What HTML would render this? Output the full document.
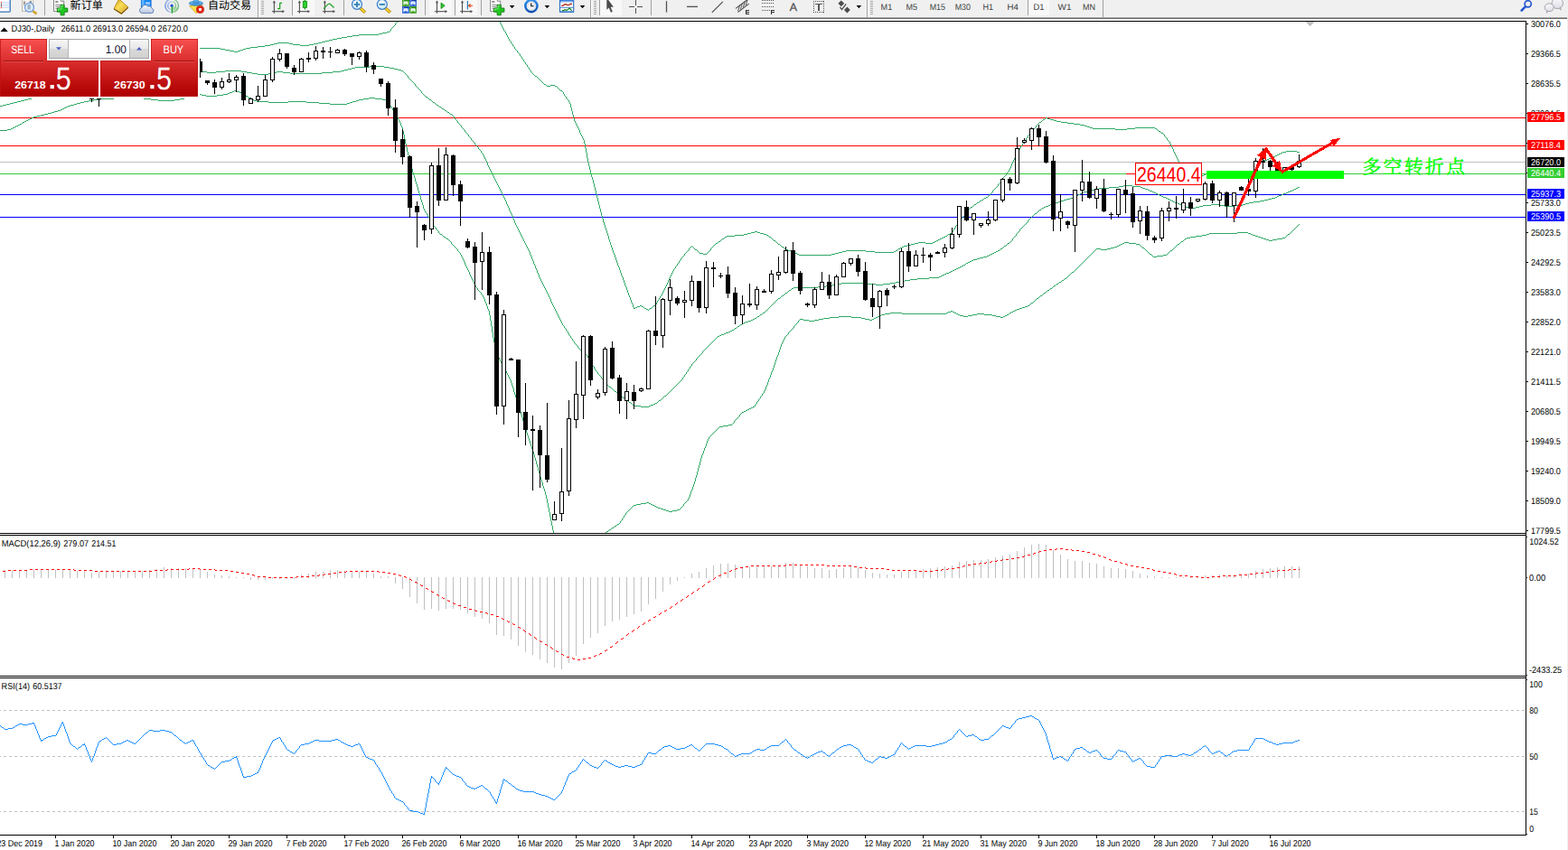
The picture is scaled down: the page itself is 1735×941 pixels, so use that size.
<!DOCTYPE html>
<html><head><meta charset="utf-8"><title>DJ30 Daily</title>
<style>
html,body{margin:0;padding:0;background:#fff;}
body{width:1735px;height:941px;overflow:hidden;position:relative;}
svg{position:absolute;left:0;top:0;display:block;}
text{font-family:"Liberation Sans",sans-serif;white-space:pre;text-rendering:geometricPrecision;}
.c{shape-rendering:crispEdges;}
</style></head><body>
<svg width="1735" height="941" viewBox="0 0 1735 941">
<defs>
<linearGradient id="gred" x1="0" y1="0" x2="0" y2="1"><stop offset="0" stop-color="#f65252"/><stop offset="0.38" stop-color="#dc3232"/><stop offset="1" stop-color="#ae0000"/></linearGradient>
<linearGradient id="gbtn" x1="0" y1="0" x2="0" y2="1"><stop offset="0" stop-color="#f6f6f6"/><stop offset="0.5" stop-color="#e8e8e8"/><stop offset="0.5" stop-color="#dadada"/><stop offset="1" stop-color="#d0d0d0"/></linearGradient>
<clipPath id="cm"><rect x="0" y="24" width="1688" height="566"/></clipPath>
<clipPath id="cx"><rect x="0" y="924" width="1735" height="17"/></clipPath>
</defs>
<rect x="0" y="0" width="1735" height="941" fill="#fff"/>

<g class="c" clip-path="url(#cm)">
<rect x="0" y="130" width="1688" height="1" fill="#ff0000" />
<rect x="0" y="161" width="1688" height="1" fill="#ff0000" />
<rect x="0" y="179" width="1688" height="1" fill="#c0c0c0" />
<rect x="0" y="192" width="1688" height="1" fill="#32cd32" />
<rect x="0" y="215" width="1688" height="1" fill="#0000ff" />
<rect x="0" y="240" width="1688" height="1" fill="#0000ff" />
<path class="c" fill="#2fa866" d="M683 291h1v3h-1zM1125 169h1v2h-1zM641 144h1v3h-1zM727 333h1v2h-1zM451 84h1v2h-1zM451 168h1v4h-1zM771 522h1v4h-1zM1120 179h1v2h-1zM1120 264h1v2h-1zM854 410h1v2h-1zM740 308h1v2h-1zM786 275h1v2h-1zM624 104h1v2h-1zM624 361h1v2h-1zM523 310h1v2h-1zM862 387h1v3h-1zM610 334h1v2h-1zM610 577h1v5h-1zM690 310h1v3h-1zM690 571h1v2h-1zM638 138h1v2h-1zM579 66h1v2h-1zM579 265h1v2h-1zM579 466h1v3h-1zM628 367h1v2h-1zM441 132h1v2h-1zM547 197h1v2h-1zM547 379h1v3h-1zM600 313h1v2h-1zM600 534h1v4h-1zM659 211h1v4h-1zM583 72h1v2h-1zM583 273h1v2h-1zM583 479h1v3h-1zM447 149h1v5h-1zM589 287h1v2h-1zM589 497h1v3h-1zM701 340h1v2h-1zM775 507h1v4h-1zM548 199h1v2h-1zM548 382h1v4h-1zM1291 153h1v2h-1zM697 329h1v3h-1zM1107 200h1v2h-1zM609 331h1v3h-1zM609 572h1v5h-1zM581 69h1v2h-1zM581 269h1v2h-1zM581 472h1v4h-1zM592 294h1v3h-1zM592 507h1v3h-1zM584 275h1v2h-1zM584 482h1v3h-1zM678 277h1v3h-1zM682 288h1v3h-1zM575 60h1v2h-1zM575 257h1v2h-1zM575 453h1v3h-1zM461 204h1v3h-1zM858 398h1v3h-1zM464 214h1v3h-1zM652 184h1v4h-1zM1135 153h1v2h-1zM557 32h1v2h-1zM557 217h1v2h-1zM557 406h1v2h-1zM578 263h1v2h-1zM578 462h1v4h-1zM763 406h1v2h-1zM763 547h1v3h-1zM429 113h1v2h-1zM588 284h1v3h-1zM588 494h1v3h-1zM655 196h1v3h-1zM655 403h1v2h-1zM620 354h1v2h-1zM433 118h1v2h-1zM686 299h1v3h-1zM686 577h1v2h-1zM534 170h1v2h-1zM534 327h1v2h-1zM739 310h1v3h-1zM537 176h1v2h-1zM537 334h1v2h-1zM770 397h1v2h-1zM770 526h1v3h-1zM857 401h1v3h-1zM1146 139h1v2h-1zM529 163h1v2h-1zM594 299h1v3h-1zM594 514h1v3h-1zM615 344h1v2h-1zM818 459h1v2h-1zM616 346h1v2h-1zM595 302h1v2h-1zM595 517h1v4h-1zM478 246h1v2h-1zM544 191h1v2h-1zM544 361h1v7h-1zM1113 192h1v2h-1zM1054 255h1v2h-1zM633 123h1v4h-1zM633 375h1v2h-1zM1067 237h1v2h-1zM540 183h1v2h-1zM540 342h1v2h-1zM849 423h1v3h-1zM514 144h1v2h-1zM514 290h1v3h-1zM699 335h1v2h-1zM449 159h1v4h-1zM1057 250h1v2h-1zM700 337h1v3h-1zM452 172h1v4h-1zM1104 204h1v2h-1zM738 313h1v2h-1zM640 142h1v2h-1zM1133 156h1v2h-1zM521 153h1v2h-1zM521 306h1v2h-1zM1306 182h1v2h-1zM1059 247h1v2h-1zM522 308h1v2h-1zM761 409h1v2h-1zM761 552h1v2h-1zM626 107h1v2h-1zM626 364h1v2h-1zM647 159h1v5h-1zM567 49h1v2h-1zM567 239h1v3h-1zM567 427h1v3h-1zM1129 162h1v2h-1zM872 368h1v2h-1zM629 111h1v2h-1zM629 369h1v2h-1zM769 529h1v4h-1zM442 134h1v2h-1zM1098 211h1v2h-1zM853 412h1v3h-1zM630 113h1v2h-1zM845 433h1v2h-1zM443 136h1v3h-1zM777 389h1v2h-1zM777 502h1v2h-1zM742 304h1v2h-1zM585 75h1v2h-1zM585 277h1v2h-1zM585 485h1v3h-1zM1297 163h1v2h-1zM546 195h1v2h-1zM546 374h1v5h-1zM612 338h1v2h-1zM612 587h1v3h-1zM446 145h1v4h-1zM753 286h1v2h-1zM506 134h1v2h-1zM506 276h1v2h-1zM571 249h1v2h-1zM571 440h1v3h-1zM733 323h1v2h-1zM582 271h1v2h-1zM582 476h1v3h-1zM848 426h1v2h-1zM460 201h1v3h-1zM591 292h1v2h-1zM591 503h1v4h-1zM574 255h1v2h-1zM574 449h1v4h-1zM459 93h1v2h-1zM459 197h1v4h-1zM1310 188h1v2h-1zM1302 174h1v2h-1zM676 271h1v3h-1zM1308 185h1v2h-1zM463 211h1v3h-1zM618 350h1v2h-1zM559 35h1v2h-1zM559 221h1v2h-1zM764 544h1v3h-1zM1295 159h1v2h-1zM749 292h1v2h-1zM667 242h1v4h-1zM525 158h1v2h-1zM525 314h1v2h-1zM685 296h1v3h-1zM566 237h1v2h-1zM566 424h1v3h-1zM670 252h1v3h-1zM596 304h1v3h-1zM596 521h1v3h-1zM568 242h1v2h-1zM568 430h1v4h-1zM476 243h1v2h-1zM535 172h1v2h-1zM535 329h1v2h-1zM673 261h1v4h-1zM779 496h1v3h-1zM1296 161h1v2h-1zM601 315h1v2h-1zM601 538h1v3h-1zM850 420h1v3h-1zM543 189h1v2h-1zM543 355h1v6h-1zM649 169h1v6h-1zM694 321h1v3h-1zM660 215h1v4h-1zM1124 171h1v2h-1zM1124 259h1v2h-1zM651 180h1v4h-1zM651 396h1v2h-1zM772 518h1v4h-1zM603 319h1v2h-1zM603 544h1v4h-1zM551 205h1v2h-1zM551 392h1v4h-1zM604 321h1v2h-1zM604 548h1v4h-1zM450 163h1v5h-1zM663 227h1v4h-1zM732 325h1v2h-1zM744 300h1v2h-1zM502 129h1v2h-1zM695 324h1v3h-1zM448 154h1v5h-1zM847 428h1v3h-1zM436 123h1v2h-1zM597 307h1v2h-1zM597 524h1v4h-1zM843 436h1v2h-1zM468 227h1v4h-1zM656 199h1v4h-1zM580 267h1v2h-1zM580 469h1v3h-1zM569 52h1v2h-1zM569 244h1v3h-1zM569 434h1v3h-1zM1137 150h1v2h-1zM1137 244h1v2h-1zM545 193h1v2h-1zM545 368h1v6h-1zM1118 184h1v2h-1zM839 442h1v2h-1zM643 149h1v2h-1zM587 78h1v2h-1zM587 282h1v2h-1zM587 491h1v3h-1zM767 536h1v3h-1zM1141 145h1v2h-1zM768 533h1v3h-1zM657 203h1v4h-1zM657 406h1v2h-1zM509 280h1v2h-1zM864 381h1v3h-1zM438 126h1v2h-1zM784 484h1v2h-1zM743 302h1v2h-1zM661 219h1v4h-1zM661 412h1v2h-1zM635 131h1v3h-1zM635 378h1v2h-1zM680 282h1v3h-1zM479 248h1v2h-1zM560 37h1v2h-1zM560 223h1v3h-1zM560 411h1v2h-1zM516 295h1v2h-1zM617 348h1v2h-1zM837 445h1v2h-1zM883 355h1v2h-1zM607 327h1v2h-1zM607 562h1v5h-1zM666 239h1v3h-1zM1131 159h1v2h-1zM736 317h1v2h-1zM642 147h1v2h-1zM669 249h1v3h-1zM669 422h1v2h-1zM1299 168h1v2h-1zM541 185h1v2h-1zM541 344h1v5h-1zM1298 165h1v3h-1zM631 115h1v4h-1zM631 372h1v2h-1zM602 317h1v2h-1zM602 541h1v3h-1zM573 253h1v2h-1zM573 446h1v3h-1zM650 175h1v5h-1zM650 394h1v2h-1zM653 188h1v4h-1zM653 399h1v2h-1zM735 319h1v2h-1zM774 511h1v4h-1zM662 223h1v4h-1zM1305 180h1v2h-1zM552 207h1v2h-1zM552 396h1v2h-1zM783 486h1v2h-1zM613 340h1v2h-1zM593 297h1v2h-1zM593 510h1v4h-1zM766 539h1v3h-1zM561 39h1v2h-1zM561 226h1v2h-1zM561 413h1v2h-1zM812 466h1v2h-1zM865 379h1v2h-1zM846 431h1v2h-1zM572 56h1v2h-1zM572 251h1v2h-1zM572 443h1v3h-1zM644 151h1v2h-1zM1071 232h1v2h-1zM645 153h1v2h-1zM759 412h1v2h-1zM675 268h1v3h-1zM696 327h1v2h-1zM1311 190h1v2h-1zM470 233h1v2h-1zM518 149h1v2h-1zM518 299h1v2h-1zM515 293h1v2h-1zM765 403h1v2h-1zM765 542h1v2h-1zM781 491h1v3h-1zM860 393h1v2h-1zM741 306h1v2h-1zM757 281h1v2h-1zM757 415h1v2h-1zM780 494h1v2h-1zM611 336h1v2h-1zM611 582h1v5h-1zM778 499h1v3h-1zM439 128h1v2h-1zM861 390h1v3h-1zM434 120h1v2h-1zM455 183h1v4h-1zM554 26h1v2h-1zM554 211h1v2h-1zM554 400h1v2h-1zM745 298h1v2h-1zM1121 177h1v2h-1zM577 63h1v2h-1zM577 261h1v2h-1zM577 459h1v3h-1zM437 26h1v2h-1zM563 43h1v2h-1zM563 230h1v3h-1zM563 417h1v2h-1zM608 329h1v2h-1zM608 567h1v5h-1zM734 321h1v2h-1zM590 289h1v3h-1zM590 500h1v3h-1zM856 404h1v3h-1zM539 180h1v3h-1zM539 339h1v3h-1zM614 342h1v2h-1zM536 174h1v2h-1zM536 331h1v3h-1zM691 313h1v3h-1zM688 305h1v2h-1zM688 574h1v2h-1zM841 439h1v2h-1zM456 187h1v4h-1zM835 448h1v2h-1zM632 119h1v4h-1zM665 235h1v4h-1zM665 417h1v2h-1zM1304 178h1v2h-1zM605 323h1v2h-1zM605 552h1v5h-1zM868 373h1v2h-1zM524 312h1v2h-1zM1288 149h1v2h-1zM1117 186h1v2h-1zM469 231h1v2h-1zM776 504h1v3h-1zM851 418h1v2h-1zM687 302h1v3h-1zM859 395h1v3h-1zM457 191h1v3h-1zM576 259h1v2h-1zM576 456h1v3h-1zM867 375h1v2h-1zM672 258h1v3h-1zM538 178h1v2h-1zM538 336h1v3h-1zM878 361h1v2h-1zM1119 181h1v3h-1zM648 164h1v5h-1zM606 325h1v2h-1zM606 557h1v5h-1zM751 289h1v2h-1zM664 231h1v4h-1zM482 252h1v2h-1zM762 275h1v2h-1zM762 550h1v2h-1zM747 295h1v2h-1zM782 488h1v3h-1zM623 102h1v2h-1zM586 279h1v3h-1zM586 488h1v3h-1zM511 284h1v2h-1zM730 328h1v2h-1zM637 136h1v2h-1zM622 358h1v2h-1zM619 352h1v2h-1zM432 32h1v2h-1zM726 335h1v2h-1zM855 407h1v3h-1zM453 176h1v4h-1zM671 255h1v3h-1zM549 201h1v2h-1zM549 386h1v3h-1zM729 330h1v2h-1zM1128 164h1v2h-1zM1128 254h1v2h-1zM466 101h1v2h-1zM466 221h1v3h-1zM863 384h1v3h-1zM692 316h1v2h-1zM692 568h1v2h-1zM621 356h1v2h-1zM677 274h1v3h-1zM1394 180h1v2h-1zM698 332h1v3h-1zM510 139h1v2h-1zM510 282h1v2h-1zM1062 243h1v2h-1zM513 288h1v2h-1zM681 285h1v3h-1zM517 297h1v2h-1zM646 155h1v4h-1zM1116 188h1v2h-1zM654 192h1v4h-1zM654 401h1v2h-1zM668 246h1v3h-1zM556 30h1v2h-1zM556 215h1v2h-1zM556 404h1v2h-1zM553 24h1v2h-1zM553 209h1v2h-1zM553 398h1v2h-1zM1300 170h1v2h-1zM866 377h1v2h-1zM465 217h1v4h-1zM562 41h1v2h-1zM562 228h1v2h-1zM562 415h1v2h-1zM565 46h1v2h-1zM565 235h1v2h-1zM565 421h1v3h-1zM634 127h1v4h-1zM454 180h1v3h-1zM1127 166h1v2h-1zM693 318h1v3h-1zM570 247h1v2h-1zM570 437h1v3h-1zM1123 173h1v2h-1zM1109 197h1v2h-1zM1303 176h1v2h-1zM526 316h1v2h-1zM658 207h1v4h-1zM658 408h1v2h-1zM773 515h1v3h-1zM485 256h1v2h-1zM1122 175h1v2h-1zM555 28h1v2h-1zM555 213h1v2h-1zM555 402h1v2h-1zM564 233h1v2h-1zM564 419h1v2h-1zM542 187h1v2h-1zM542 349h1v6h-1zM679 280h1v2h-1zM737 315h1v2h-1zM528 319h1v2h-1zM532 167h1v2h-1zM532 324h1v2h-1zM445 141h1v4h-1zM462 207h1v4h-1zM1301 172h1v2h-1zM639 140h1v2h-1zM639 383h1v2h-1zM1294 157h1v2h-1zM1056 252h1v2h-1zM472 236h1v2h-1zM475 241h1v2h-1zM674 265h1v3h-1zM512 286h1v2h-1zM599 311h1v2h-1zM599 531h1v3h-1zM558 219h1v2h-1zM558 408h1v2h-1zM852 415h1v3h-1zM473 238h1v2h-1zM499 268h1v2h-1zM458 194h1v3h-1zM636 134h1v2h-1zM520 304h1v2h-1zM756 558h1v2h-1zM598 309h1v2h-1zM598 528h1v3h-1zM755 418h1v2h-1zM519 301h1v3h-1zM444 139h1v2h-1zM689 307h1v3h-1zM550 203h1v2h-1zM550 389h1v3h-1zM467 224h1v3h-1zM440 130h1v2h-1zM684 294h1v2h-1zM486 258h1v1h-1zM827 258h4v1h-4zM841 258h4v1h-4zM1051 258h2v1h-2zM1125 258h1v1h-1zM1338 258h31v1h-31zM1381 258h3v1h-3zM1427 258h1v1h-1zM35 108h4v1h-4zM126 108h6v1h-6zM153 108h6v1h-6zM204 108h3v1h-3zM275 108h2v1h-2zM408 108h7v1h-7zM473 108h1v1h-1zM1068 236h1v1h-1zM1145 236h2v1h-2zM1078 226h2v1h-2zM1162 226h3v1h-3zM1305 226h2v1h-2zM1340 226h10v1h-10zM1375 226h3v1h-3zM15 113h4v1h-4zM89 113h4v1h-4zM297 113h22v1h-22zM339 113h14v1h-14zM387 113h3v1h-3zM479 113h2v1h-2zM843 347h1v1h-1zM979 347h6v1h-6zM998 347h49v1h-49zM1058 347h2v1h-2zM1081 347h8v1h-8zM1116 347h1v1h-1zM20 138h2v1h-2zM509 138h1v1h-1zM1147 138h1v1h-1zM1195 138h5v1h-5zM249 78h18v1h-18zM377 78h4v1h-4zM444 78h2v1h-2zM494 264h2v1h-2zM799 264h2v1h-2zM854 264h1v1h-1zM1040 264h2v1h-2zM1311 264h2v1h-2zM1398 264h3v1h-3zM1413 264h6v1h-6zM926 314h5v1h-5zM960 314h9v1h-9zM977 314h8v1h-8zM1169 314h2v1h-2zM752 288h1v1h-1zM1075 288h2v1h-2zM1200 288h1v1h-1zM1093 217h1v1h-1zM1189 217h2v1h-2zM1285 217h2v1h-2zM1413 217h2v1h-2zM504 274h1v1h-1zM763 274h1v1h-1zM767 274h1v1h-1zM787 274h1v1h-1zM867 274h1v1h-1zM996 274h2v1h-2zM1109 274h1v1h-1zM1229 274h4v1h-4zM1264 274h2v1h-2zM1299 274h1v1h-1zM1115 190h1v1h-1zM1384 190h2v1h-2zM778 281h4v1h-4zM882 281h2v1h-2zM920 281h4v1h-4zM1096 281h2v1h-2zM1207 281h1v1h-1zM1272 281h2v1h-2zM1291 281h1v1h-1zM384 40h6v1h-6zM500 270h1v1h-1zM791 270h1v1h-1zM861 270h2v1h-2zM1008 270h4v1h-4zM1114 270h1v1h-1zM1240 270h2v1h-2zM1257 270h4v1h-4zM1303 270h2v1h-2zM49 126h4v1h-4zM498 126h2v1h-2zM1066 293h2v1h-2zM1195 293h1v1h-1zM497 266h1v1h-1zM797 266h1v1h-1zM856 266h2v1h-2zM1036 266h2v1h-2zM1119 266h1v1h-1zM1309 266h1v1h-1zM1404 266h4v1h-4zM409 73h16v1h-16zM1028 307h11v1h-11zM1180 307h1v1h-1zM1102 207h1v1h-1zM1227 207h11v1h-11zM1262 207h2v1h-2zM1436 207h2v1h-2zM219 53h25v1h-25zM272 53h5v1h-5zM1096 214h1v1h-1zM1195 214h2v1h-2zM1279 214h2v1h-2zM1420 214h3v1h-3zM991 312h5v1h-5zM1172 312h2v1h-2zM18 139h2v1h-2zM1200 139h3v1h-3zM864 328h1v1h-1zM1150 328h1v1h-1zM884 282h36v1h-36zM1094 282h2v1h-2zM1206 282h1v1h-1zM1274 282h1v1h-1zM1287 282h4v1h-4zM638 382h1v1h-1zM784 382h1v1h-1zM8 143h4v1h-4zM513 143h1v1h-1zM1143 143h1v1h-1zM1234 143h13v1h-13zM1280 143h1v1h-1zM1126 168h1v1h-1zM1419 168h4v1h-4zM1435 168h3v1h-3zM1101 208h1v1h-1zM1216 208h11v1h-11zM1264 208h3v1h-3zM1434 208h2v1h-2zM490 261h1v1h-1zM804 261h9v1h-9zM850 261h1v1h-1zM1046 261h2v1h-2zM1123 261h1v1h-1zM1323 261h7v1h-7zM1389 261h3v1h-3zM1423 261h1v1h-1zM709 557h6v1h-6zM718 557h2v1h-2zM757 557h1v1h-1zM37 129h4v1h-4zM299 49h4v1h-4zM324 49h8v1h-8zM342 49h5v1h-5zM279 81h6v1h-6zM297 81h4v1h-4zM321 81h35v1h-35zM448 81h1v1h-1zM589 81h1v1h-1zM792 476h1v1h-1zM27 134h2v1h-2zM1152 134h1v1h-1zM1169 134h5v1h-5zM792 269h2v1h-2zM860 269h1v1h-1zM1012 269h4v1h-4zM1024 269h8v1h-8zM1115 269h2v1h-2zM1242 269h2v1h-2zM1249 269h8v1h-8zM1305 269h1v1h-1zM259 57h4v1h-4zM1112 194h1v1h-1zM1315 194h2v1h-2zM1328 194h4v1h-4zM1372 194h5v1h-5zM219 79h10v1h-10zM239 79h10v1h-10zM267 79h6v1h-6zM306 79h7v1h-7zM368 79h9v1h-9zM446 79h1v1h-1zM754 285h1v1h-1zM1084 285h4v1h-4zM1203 285h1v1h-1zM491 262h2v1h-2zM802 262h2v1h-2zM851 262h2v1h-2zM1044 262h2v1h-2zM1122 262h1v1h-1zM1317 262h6v1h-6zM1392 262h3v1h-3zM1422 262h1v1h-1zM11 114h4v1h-4zM85 114h4v1h-4zM353 114h12v1h-12zM384 114h3v1h-3zM481 114h1v1h-1zM701 559h3v1h-3zM722 559h2v1h-2zM285 51h8v1h-8zM568 51h1v1h-1zM397 38h22v1h-22zM229 80h10v1h-10zM273 80h6v1h-6zM301 80h5v1h-5zM313 80h8v1h-8zM356 80h12v1h-12zM447 80h1v1h-1zM588 80h1v1h-1zM7 115h4v1h-4zM82 115h3v1h-3zM365 115h19v1h-19zM430 115h1v1h-1zM482 115h1v1h-1zM1099 210h1v1h-1zM1207 210h5v1h-5zM1270 210h2v1h-2zM1430 210h2v1h-2zM505 275h1v1h-1zM768 275h1v1h-1zM868 275h2v1h-2zM994 275h2v1h-2zM1107 275h2v1h-2zM1213 275h5v1h-5zM1225 275h4v1h-4zM1266 275h1v1h-1zM1298 275h1v1h-1zM12 142h2v1h-2zM512 142h1v1h-1zM1144 142h1v1h-1zM1209 142h25v1h-25zM1247 142h9v1h-9zM1278 142h2v1h-2zM696 445h2v1h-2zM727 445h1v1h-1zM816 361h2v1h-2zM761 277h1v1h-1zM771 277h1v1h-1zM785 277h1v1h-1zM872 277h3v1h-3zM936 277h22v1h-22zM991 277h2v1h-2zM1104 277h2v1h-2zM1211 277h1v1h-1zM1268 277h1v1h-1zM1295 277h2v1h-2zM1074 229h2v1h-2zM1155 229h2v1h-2zM1312 229h5v1h-5zM1323 229h4v1h-4zM393 74h16v1h-16zM425 74h6v1h-6zM584 74h1v1h-1zM1392 183h1v1h-1zM709 450h9v1h-9zM833 450h2v1h-2zM1243 205h10v1h-10zM678 431h1v1h-1zM743 431h1v1h-1zM19 112h4v1h-4zM93 112h5v1h-5zM284 112h13v1h-13zM319 112h20v1h-20zM390 112h4v1h-4zM428 112h1v1h-1zM478 112h1v1h-1zM682 581h1v1h-1zM1086 221h2v1h-2zM1177 221h3v1h-3zM1294 221h2v1h-2zM1399 221h4v1h-4zM703 340h2v1h-2zM712 340h1v1h-1zM721 340h1v1h-1zM851 340h1v1h-1zM1131 340h3v1h-3zM508 279h1v1h-1zM759 279h1v1h-1zM773 279h1v1h-1zM783 279h1v1h-1zM877 279h2v1h-2zM928 279h4v1h-4zM968 279h21v1h-21zM1100 279h2v1h-2zM1209 279h1v1h-1zM1270 279h1v1h-1zM1293 279h1v1h-1zM1143 238h1v1h-1zM837 351h1v1h-1zM918 351h10v1h-10zM942 351h11v1h-11zM969 351h2v1h-2zM1107 351h3v1h-3zM1312 192h1v1h-1zM1334 192h6v1h-6zM1353 192h11v1h-11zM1379 192h3v1h-3zM385 76h4v1h-4zM436 76h4v1h-4zM31 109h4v1h-4zM111 109h15v1h-15zM159 109h8v1h-8zM199 109h5v1h-5zM277 109h2v1h-2zM402 109h6v1h-6zM415 109h8v1h-8zM474 109h1v1h-1zM627 109h1v1h-1zM523 156h1v1h-1zM1293 156h1v1h-1zM841 348h2v1h-2zM975 348h4v1h-4zM1060 348h2v1h-2zM1076 348h5v1h-5zM1089 348h9v1h-9zM1114 348h2v1h-2zM501 271h1v1h-1zM790 271h1v1h-1zM863 271h1v1h-1zM1004 271h4v1h-4zM1113 271h1v1h-1zM1238 271h2v1h-2zM1261 271h1v1h-1zM1302 271h1v1h-1zM489 260h1v1h-1zM813 260h10v1h-10zM848 260h2v1h-2zM1048 260h1v1h-1zM1330 260h5v1h-5zM1386 260h3v1h-3zM1424 260h1v1h-1zM861 330h2v1h-2zM1147 330h2v1h-2zM22 137h2v1h-2zM508 137h1v1h-1zM1148 137h1v1h-1zM1188 137h7v1h-7zM715 556h3v1h-3zM758 556h1v1h-1zM529 321h1v1h-1zM873 321h2v1h-2zM1159 321h2v1h-2zM460 95h1v1h-1zM605 95h4v1h-4zM614 95h2v1h-2zM835 352h2v1h-2zM911 352h7v1h-7zM953 352h4v1h-4zM967 352h2v1h-2zM833 353h2v1h-2zM885 353h4v1h-4zM906 353h5v1h-5zM957 353h5v1h-5zM965 353h2v1h-2zM1398 177h4v1h-4zM875 320h1v1h-1zM1161 320h1v1h-1zM1282 145h2v1h-2zM498 267h1v1h-1zM795 267h2v1h-2zM858 267h1v1h-1zM1034 267h2v1h-2zM1118 267h1v1h-1zM1307 267h2v1h-2zM27 110h4v1h-4zM104 110h7v1h-7zM167 110h8v1h-8zM193 110h6v1h-6zM279 110h2v1h-2zM397 110h5v1h-5zM423 110h4v1h-4zM475 110h2v1h-2zM628 110h1v1h-1zM461 96h1v1h-1zM616 96h1v1h-1zM493 263h1v1h-1zM801 263h1v1h-1zM853 263h1v1h-1zM1042 263h2v1h-2zM1121 263h1v1h-1zM1313 263h4v1h-4zM1395 263h3v1h-3zM1419 263h3v1h-3zM1095 215h1v1h-1zM1193 215h2v1h-2zM1281 215h2v1h-2zM1418 215h2v1h-2zM1088 220h1v1h-1zM1180 220h4v1h-4zM1292 220h2v1h-2zM1403 220h4v1h-4zM840 349h1v1h-1zM973 349h2v1h-2zM1062 349h4v1h-4zM1071 349h5v1h-5zM1098 349h4v1h-4zM1112 349h2v1h-2zM1150 232h2v1h-2zM23 111h4v1h-4zM98 111h6v1h-6zM175 111h18v1h-18zM281 111h3v1h-3zM394 111h3v1h-3zM427 111h1v1h-1zM477 111h1v1h-1zM1111 195h1v1h-1zM1317 195h2v1h-2zM1323 195h5v1h-5zM1054 299h2v1h-2zM1189 299h1v1h-1zM844 346h2v1h-2zM985 346h13v1h-13zM1047 346h2v1h-2zM1056 346h2v1h-2zM1117 346h2v1h-2zM45 127h4v1h-4zM500 127h1v1h-1zM29 133h2v1h-2zM505 133h1v1h-1zM1153 133h1v1h-1zM1166 133h3v1h-3zM810 469h1v1h-1zM39 107h4v1h-4zM132 107h21v1h-21zM207 107h4v1h-4zM274 107h1v1h-1zM471 107h2v1h-2zM1106 202h1v1h-1zM838 350h2v1h-2zM928 350h14v1h-14zM971 350h2v1h-2zM1066 350h5v1h-5zM1102 350h5v1h-5zM1110 350h2v1h-2zM1015 308h13v1h-13zM1178 308h2v1h-2zM381 77h4v1h-4zM440 77h4v1h-4zM586 77h1v1h-1zM41 128h4v1h-4zM501 128h1v1h-1zM452 86h1v1h-1zM595 86h1v1h-1zM25 135h2v1h-2zM1150 135h2v1h-2zM1174 135h7v1h-7zM695 565h1v1h-1zM737 565h3v1h-3zM744 565h5v1h-5zM869 324h2v1h-2zM1155 324h2v1h-2zM3 116h4v1h-4zM78 116h4v1h-4zM431 116h1v1h-1zM483 116h2v1h-2zM218 104h5v1h-5zM247 104h5v1h-5zM269 104h1v1h-1zM468 104h1v1h-1zM794 268h1v1h-1zM859 268h1v1h-1zM1016 268h8v1h-8zM1032 268h2v1h-2zM1117 268h1v1h-1zM1244 268h5v1h-5zM1306 268h1v1h-1zM796 472h4v1h-4zM758 280h1v1h-1zM774 280h4v1h-4zM782 280h1v1h-1zM879 280h3v1h-3zM924 280h4v1h-4zM1098 280h2v1h-2zM1208 280h1v1h-1zM1271 280h1v1h-1zM1292 280h1v1h-1zM769 276h2v1h-2zM870 276h2v1h-2zM993 276h1v1h-1zM1106 276h1v1h-1zM1212 276h1v1h-1zM1218 276h7v1h-7zM1267 276h1v1h-1zM1297 276h1v1h-1zM1203 211h4v1h-4zM1272 211h3v1h-3zM1427 211h3v1h-3zM423 36h5v1h-5zM503 273h1v1h-1zM764 273h1v1h-1zM766 273h1v1h-1zM788 273h1v1h-1zM865 273h2v1h-2zM998 273h2v1h-2zM1110 273h1v1h-1zM1233 273h3v1h-3zM1263 273h1v1h-1zM1300 273h1v1h-1zM43 106h3v1h-3zM211 106h3v1h-3zM228 106h12v1h-12zM272 106h2v1h-2zM470 106h1v1h-1zM625 106h1v1h-1zM630 371h1v1h-1zM796 371h2v1h-2zM870 371h1v1h-1zM487 259h2v1h-2zM823 259h4v1h-4zM845 259h3v1h-3zM1049 259h2v1h-2zM1335 259h3v1h-3zM1384 259h2v1h-2zM1425 259h2v1h-2zM679 432h1v1h-1zM742 432h1v1h-1zM483 254h1v1h-1zM1055 254h1v1h-1zM1431 254h1v1h-1zM1076 228h1v1h-1zM1157 228h3v1h-3zM1310 228h2v1h-2zM1327 228h4v1h-4zM1355 228h10v1h-10zM252 103h2v1h-2zM267 103h2v1h-2zM467 103h1v1h-1zM931 313h29v1h-29zM985 313h6v1h-6zM1171 313h1v1h-1zM823 357h2v1h-2zM882 357h1v1h-1zM1050 301h2v1h-2zM1186 301h2v1h-2zM259 100h3v1h-3zM465 100h1v1h-1zM620 100h2v1h-2zM698 562h1v1h-1zM728 562h3v1h-3zM753 562h1v1h-1zM14 141h2v1h-2zM511 141h1v1h-1zM1145 141h1v1h-1zM1206 141h3v1h-3zM1256 141h22v1h-22zM699 447h1v1h-1zM723 447h2v1h-2zM836 447h1v1h-1zM1077 227h1v1h-1zM1160 227h2v1h-2zM1307 227h3v1h-3zM1331 227h9v1h-9zM1350 227h5v1h-5zM1365 227h10v1h-10zM214 105h4v1h-4zM223 105h5v1h-5zM240 105h7v1h-7zM270 105h2v1h-2zM469 105h1v1h-1zM769 399h1v1h-1zM57 124h3v1h-3zM495 124h2v1h-2zM634 377h1v1h-1zM789 377h1v1h-1zM1083 223h1v1h-1zM1171 223h3v1h-3zM1298 223h2v1h-2zM1387 223h7v1h-7zM700 448h2v1h-2zM720 448h3v1h-3zM1081 224h2v1h-2zM1168 224h3v1h-3zM1300 224h3v1h-3zM1382 224h5v1h-5zM1081 286h3v1h-3zM1202 286h1v1h-1zM676 585h1v1h-1zM356 46h4v1h-4zM656 405h1v1h-1zM764 405h1v1h-1zM1199 212h4v1h-4zM1275 212h2v1h-2zM1425 212h2v1h-2zM694 566h1v1h-1zM740 566h4v1h-4zM671 425h1v1h-1zM749 425h1v1h-1zM502 272h1v1h-1zM765 272h1v1h-1zM789 272h1v1h-1zM864 272h1v1h-1zM1000 272h4v1h-4zM1111 272h2v1h-2zM1236 272h2v1h-2zM1262 272h1v1h-1zM1301 272h1v1h-1zM823 455h2v1h-2zM244 54h5v1h-5zM269 54h3v1h-3zM570 54h1v1h-1zM1058 249h1v1h-1zM1133 249h1v1h-1zM1436 249h1v1h-1zM1423 167h12v1h-12zM748 294h1v1h-1zM1064 294h2v1h-2zM1194 294h1v1h-1zM647 391h1v1h-1zM776 391h1v1h-1zM368 43h5v1h-5zM846 345h1v1h-1zM1049 345h3v1h-3zM1054 345h2v1h-2zM1119 345h2v1h-2zM1100 209h1v1h-1zM1212 209h4v1h-4zM1267 209h3v1h-3zM1432 209h2v1h-2zM702 341h1v1h-1zM713 341h2v1h-2zM719 341h2v1h-2zM850 341h1v1h-1zM1128 341h3v1h-3zM480 250h1v1h-1zM1132 250h1v1h-1zM1435 250h1v1h-1zM496 265h1v1h-1zM798 265h1v1h-1zM855 265h1v1h-1zM1038 265h2v1h-2zM1310 265h1v1h-1zM1401 265h3v1h-3zM1408 265h5v1h-5zM507 278h1v1h-1zM760 278h1v1h-1zM772 278h1v1h-1zM784 278h1v1h-1zM875 278h2v1h-2zM932 278h4v1h-4zM958 278h10v1h-10zM989 278h2v1h-2zM1102 278h2v1h-2zM1210 278h1v1h-1zM1269 278h1v1h-1zM1294 278h1v1h-1zM527 318h1v1h-1zM878 318h27v1h-27zM1164 318h1v1h-1zM450 83h1v1h-1zM591 83h1v1h-1zM694 443h1v1h-1zM729 443h2v1h-2zM876 319h2v1h-2zM1162 319h2v1h-2zM1084 222h2v1h-2zM1174 222h3v1h-3zM1296 222h2v1h-2zM1394 222h5v1h-5zM60 123h4v1h-4zM494 123h1v1h-1zM695 444h1v1h-1zM728 444h1v1h-1zM838 444h1v1h-1zM360 45h4v1h-4zM564 45h1v1h-1zM484 255h1v1h-1zM1430 255h1v1h-1zM390 39h7v1h-7zM389 75h4v1h-4zM431 75h5v1h-5zM1408 173h3v1h-3zM857 334h1v1h-1zM1143 334h1v1h-1zM307 47h13v1h-13zM352 47h4v1h-4zM303 48h4v1h-4zM320 48h4v1h-4zM347 48h5v1h-5zM566 48h1v1h-1zM914 316h7v1h-7zM1166 316h2v1h-2zM1062 295h2v1h-2zM1193 295h1v1h-1zM819 359h2v1h-2zM880 359h1v1h-1zM1103 206h1v1h-1zM1238 206h5v1h-5zM1253 206h9v1h-9zM798 370h3v1h-3zM871 370h1v1h-1zM293 50h6v1h-6zM332 50h10v1h-10zM643 388h1v1h-1zM778 388h1v1h-1zM810 365h2v1h-2zM875 365h1v1h-1zM856 335h1v1h-1zM1141 335h2v1h-2zM794 372h2v1h-2zM869 372h1v1h-1zM516 147h1v1h-1zM1140 147h1v1h-1zM1285 147h2v1h-2zM0 144h8v1h-8zM1142 144h1v1h-1zM1281 144h1v1h-1zM1129 253h1v1h-1zM1432 253h1v1h-1zM689 440h2v1h-2zM733 440h1v1h-1zM625 363h1v1h-1zM813 363h2v1h-2zM877 363h1v1h-1zM756 283h1v1h-1zM1092 283h2v1h-2zM1205 283h1v1h-1zM1275 283h1v1h-1zM1280 283h7v1h-7zM1001 310h6v1h-6zM1175 310h2v1h-2zM696 564h1v1h-1zM734 564h3v1h-3zM749 564h3v1h-3zM831 257h4v1h-4zM838 257h3v1h-3zM1053 257h1v1h-1zM1126 257h1v1h-1zM1369 257h12v1h-12zM1428 257h1v1h-1zM533 326h1v1h-1zM867 326h1v1h-1zM1153 326h1v1h-1zM1313 193h2v1h-2zM1332 193h2v1h-2zM1364 193h8v1h-8zM1377 193h2v1h-2zM530 322h1v1h-1zM872 322h1v1h-1zM1158 322h1v1h-1zM791 477h1v1h-1zM649 393h1v1h-1zM774 393h1v1h-1zM831 354h2v1h-2zM884 354h1v1h-1zM889 354h6v1h-6zM901 354h5v1h-5zM962 354h3v1h-3zM687 438h1v1h-1zM735 438h2v1h-2zM842 438h1v1h-1zM31 132h2v1h-2zM504 132h1v1h-1zM1154 132h2v1h-2zM1162 132h4v1h-4zM1070 234h1v1h-1zM1148 234h1v1h-1zM254 102h3v1h-3zM265 102h2v1h-2zM771 396h1v1h-1zM811 468h1v1h-1zM522 155h1v1h-1zM1134 155h1v1h-1zM1292 155h1v1h-1zM766 402h1v1h-1zM1073 289h2v1h-2zM1199 289h1v1h-1zM750 291h1v1h-1zM1069 291h2v1h-2zM1197 291h1v1h-1zM806 367h2v1h-2zM873 367h1v1h-1zM249 55h5v1h-5zM266 55h3v1h-3zM571 55h1v1h-1zM817 461h1v1h-1zM71 119h2v1h-2zM488 119h1v1h-1zM644 389h1v1h-1zM254 56h5v1h-5zM263 56h3v1h-3zM285 82h12v1h-12zM449 82h1v1h-1zM590 82h1v1h-1zM645 390h2v1h-2zM559 410h1v1h-1zM659 410h1v1h-1zM533 169h1v1h-1zM1417 169h2v1h-2zM806 470h4v1h-4zM69 120h2v1h-2zM489 120h2v1h-2zM1114 191h1v1h-1zM1340 191h13v1h-13zM1382 191h2v1h-2zM790 376h1v1h-1zM1063 242h1v1h-1zM1139 242h1v1h-1zM0 117h3v1h-3zM75 117h3v1h-3zM432 117h1v1h-1zM485 117h1v1h-1zM627 366h1v1h-1zM808 366h2v1h-2zM874 366h1v1h-1zM640 385h1v1h-1zM781 385h1v1h-1zM463 98h1v1h-1zM618 98h1v1h-1zM604 94h1v1h-1zM609 94h5v1h-5zM378 41h6v1h-6zM680 433h2v1h-2zM741 433h1v1h-1zM373 42h5v1h-5zM439 24h1v1h-1zM715 342h2v1h-2zM718 342h1v1h-1zM849 342h1v1h-1zM1125 342h3v1h-3zM453 87h1v1h-1zM596 87h1v1h-1zM481 251h1v1h-1zM1131 251h1v1h-1zM1434 251h1v1h-1zM855 336h1v1h-1zM1140 336h1v1h-1zM1307 184h1v1h-1zM1391 184h1v1h-1zM434 30h1v1h-1zM455 89h1v1h-1zM598 89h1v1h-1zM788 378h1v1h-1zM277 52h8v1h-8zM847 344h1v1h-1zM1052 344h2v1h-2zM1121 344h2v1h-2zM1077 287h4v1h-4zM1201 287h1v1h-1zM921 315h5v1h-5zM969 315h8v1h-8zM1168 315h1v1h-1zM24 136h1v1h-1zM507 136h1v1h-1zM1149 136h1v1h-1zM1181 136h7v1h-7zM16 140h2v1h-2zM1203 140h3v1h-3zM1134 248h1v1h-1zM1437 248h1v1h-1zM755 284h1v1h-1zM1088 284h4v1h-4zM1204 284h1v1h-1zM1276 284h4v1h-4zM35 130h2v1h-2zM1157 130h2v1h-2zM683 580h2v1h-2zM831 451h2v1h-2zM1080 225h1v1h-1zM1165 225h3v1h-3zM1303 225h2v1h-2zM1378 225h4v1h-4zM1390 185h1v1h-1zM815 362h1v1h-1zM1089 219h2v1h-2zM1184 219h3v1h-3zM1290 219h2v1h-2zM1407 219h4v1h-4zM698 446h1v1h-1zM725 446h2v1h-2zM623 360h1v1h-1zM818 360h1v1h-1zM879 360h1v1h-1zM860 331h1v1h-1zM1146 331h1v1h-1zM1072 231h1v1h-1zM1152 231h1v1h-1zM1396 178h2v1h-2zM687 576h1v1h-1zM517 148h1v1h-1zM1139 148h1v1h-1zM1287 148h1v1h-1zM531 323h1v1h-1zM871 323h1v1h-1zM1157 323h1v1h-1zM1007 309h8v1h-8zM1177 309h1v1h-1zM457 91h1v1h-1zM600 91h1v1h-1zM759 555h1v1h-1zM825 356h3v1h-3zM1110 196h1v1h-1zM1319 196h4v1h-4zM699 561h1v1h-1zM726 561h2v1h-2zM754 561h1v1h-1zM821 358h2v1h-2zM881 358h1v1h-1zM257 101h2v1h-2zM262 101h3v1h-3zM622 101h1v1h-1zM663 415h1v1h-1zM1091 218h2v1h-2zM1187 218h2v1h-2zM1287 218h3v1h-3zM1411 218h2v1h-2zM364 44h4v1h-4zM664 416h1v1h-1zM692 442h2v1h-2zM731 442h1v1h-1zM1043 304h2v1h-2zM1183 304h1v1h-1zM697 563h1v1h-1zM731 563h3v1h-3zM752 563h1v1h-1zM821 456h2v1h-2zM673 427h1v1h-1zM747 427h1v1h-1zM803 368h3v1h-3zM1039 306h2v1h-2zM1181 306h1v1h-1zM782 384h1v1h-1zM471 235h1v1h-1zM1069 235h1v1h-1zM1147 235h1v1h-1zM905 317h9v1h-9zM1165 317h1v1h-1zM717 343h1v1h-1zM848 343h1v1h-1zM1123 343h2v1h-2zM667 420h1v1h-1zM754 420h1v1h-1zM683 435h1v1h-1zM739 435h1v1h-1zM844 435h1v1h-1zM671 588h2v1h-2zM1406 174h2v1h-2zM64 122h3v1h-3zM435 122h1v1h-1zM492 122h2v1h-2zM438 25h1v1h-1zM477 245h1v1h-1zM1061 245h1v1h-1zM1130 252h1v1h-1zM1433 252h1v1h-1zM33 131h2v1h-2zM503 131h1v1h-1zM1156 131h1v1h-1zM1159 131h3v1h-3zM725 337h1v1h-1zM854 337h1v1h-1zM1139 337h1v1h-1zM433 31h1v1h-1zM828 355h3v1h-3zM895 355h6v1h-6zM680 582h2v1h-2zM700 560h1v1h-1zM724 560h2v1h-2zM755 560h1v1h-1zM1066 239h1v1h-1zM1142 239h1v1h-1zM1094 216h1v1h-1zM1191 216h2v1h-2zM1283 216h2v1h-2zM1415 216h3v1h-3zM996 311h5v1h-5zM1174 311h1v1h-1zM632 374h1v1h-1zM792 374h1v1h-1zM789 479h1v1h-1zM1149 233h1v1h-1zM1052 300h2v1h-2zM1188 300h1v1h-1zM1071 290h2v1h-2zM1198 290h1v1h-1zM1105 203h1v1h-1zM524 157h1v1h-1zM419 37h4v1h-4zM515 146h1v1h-1zM1284 146h1v1h-1zM462 97h1v1h-1zM617 97h1v1h-1zM835 256h3v1h-3zM1127 256h1v1h-1zM1429 256h1v1h-1zM594 85h1v1h-1zM668 421h1v1h-1zM753 421h1v1h-1zM1047 302h3v1h-3zM1185 302h1v1h-1zM1064 241h1v1h-1zM1140 241h1v1h-1zM691 441h1v1h-1zM732 441h1v1h-1zM840 441h1v1h-1zM1097 213h1v1h-1zM1197 213h2v1h-2zM1277 213h2v1h-2zM1423 213h2v1h-2zM520 152h1v1h-1zM1136 152h1v1h-1zM1290 152h1v1h-1zM458 92h1v1h-1zM601 92h1v1h-1zM704 558h5v1h-5zM720 558h2v1h-2zM53 125h4v1h-4zM437 125h1v1h-1zM497 125h1v1h-1zM1041 305h2v1h-2zM1182 305h1v1h-1zM526 160h1v1h-1zM673 587h1v1h-1zM674 428h2v1h-2zM746 428h1v1h-1zM1060 296h2v1h-2zM1192 296h1v1h-1zM762 408h1v1h-1zM464 99h1v1h-1zM619 99h1v1h-1zM652 398h1v1h-1zM705 339h3v1h-3zM710 339h2v1h-2zM722 339h1v1h-1zM852 339h1v1h-1zM1134 339h3v1h-3zM746 297h1v1h-1zM1058 297h2v1h-2zM1191 297h1v1h-1zM793 373h1v1h-1zM863 329h1v1h-1zM1149 329h1v1h-1zM677 584h2v1h-2zM829 452h2v1h-2zM456 90h1v1h-1zM599 90h1v1h-1zM573 58h1v1h-1zM574 59h1v1h-1zM790 478h1v1h-1zM1073 230h1v1h-1zM1153 230h2v1h-2zM1317 230h6v1h-6zM662 414h1v1h-1zM758 414h1v1h-1zM679 583h1v1h-1zM677 430h1v1h-1zM744 430h1v1h-1zM800 471h6v1h-6zM474 240h1v1h-1zM1065 240h1v1h-1zM1141 240h1v1h-1zM528 162h1v1h-1zM1068 292h1v1h-1zM1196 292h1v1h-1zM691 570h1v1h-1zM708 338h2v1h-2zM723 338h2v1h-2zM853 338h1v1h-1zM1137 338h2v1h-2zM812 364h1v1h-1zM876 364h1v1h-1zM788 480h1v1h-1zM816 462h1v1h-1zM1309 187h1v1h-1zM1388 187h1v1h-1zM1415 170h2v1h-2zM672 426h1v1h-1zM748 426h1v1h-1zM795 473h1v1h-1zM801 369h2v1h-2zM819 458h1v1h-1zM576 62h1v1h-1zM641 386h1v1h-1zM780 386h1v1h-1zM814 464h1v1h-1zM580 68h1v1h-1zM648 392h1v1h-1zM775 392h1v1h-1zM682 434h1v1h-1zM740 434h1v1h-1zM67 121h2v1h-2zM491 121h1v1h-1zM702 449h7v1h-7zM718 449h2v1h-2zM1045 303h2v1h-2zM1184 303h1v1h-1zM752 422h1v1h-1zM767 401h1v1h-1zM787 379h1v1h-1zM530 165h1v1h-1zM531 166h1v1h-1zM670 589h1v1h-1zM1404 175h2v1h-2zM684 436h1v1h-1zM738 436h1v1h-1zM454 88h1v1h-1zM597 88h1v1h-1zM1135 247h1v1h-1zM592 84h2v1h-2zM602 93h2v1h-2zM1395 179h1v1h-1zM1138 149h1v1h-1zM666 419h1v1h-1zM428 35h3v1h-3zM1387 188h1v1h-1zM827 453h2v1h-2zM519 151h1v1h-1zM1289 151h1v1h-1zM794 474h1v1h-1zM1413 171h2v1h-2zM1132 158h1v1h-1zM868 325h1v1h-1zM1154 325h1v1h-1zM820 457h1v1h-1zM815 463h1v1h-1zM1108 199h1v1h-1zM642 387h1v1h-1zM779 387h1v1h-1zM756 417h1v1h-1zM685 437h2v1h-2zM737 437h1v1h-1zM751 423h1v1h-1zM636 380h1v1h-1zM786 380h1v1h-1zM527 161h1v1h-1zM1130 161h1v1h-1zM660 411h1v1h-1zM760 411h1v1h-1zM670 424h1v1h-1zM750 424h1v1h-1zM728 332h1v1h-1zM859 332h1v1h-1zM1145 332h1v1h-1zM431 34h1v1h-1zM558 34h1v1h-1zM637 381h1v1h-1zM785 381h1v1h-1zM685 579h1v1h-1zM731 327h1v1h-1zM865 327h2v1h-2zM1151 327h2v1h-2zM793 475h1v1h-1zM773 394h1v1h-1zM768 400h1v1h-1zM676 429h1v1h-1zM745 429h1v1h-1zM674 586h2v1h-2zM578 65h1v1h-1zM858 333h1v1h-1zM1144 333h1v1h-1zM582 71h1v1h-1zM787 481h1v1h-1zM435 29h1v1h-1zM693 567h1v1h-1zM813 465h1v1h-1zM1402 176h2v1h-2zM1056 298h2v1h-2zM1190 298h1v1h-1zM772 395h1v1h-1zM73 118h2v1h-2zM486 118h2v1h-2zM791 375h1v1h-1zM1389 186h1v1h-1zM825 454h2v1h-2zM1386 189h1v1h-1zM1393 182h1v1h-1zM1144 237h1v1h-1zM1411 172h2v1h-2zM689 573h1v1h-1zM1060 246h1v1h-1zM1136 246h1v1h-1zM786 482h1v1h-1zM688 439h1v1h-1zM734 439h1v1h-1zM760 554h1v1h-1zM783 383h1v1h-1zM1138 243h1v1h-1zM436 28h1v1h-1zM785 483h1v1h-1z"/>
<rect x="99" y="109" width="5" height="1" fill="#000" />
<rect x="101" y="109" width="1" height="4" fill="#000" />
<rect x="107" y="109" width="5" height="1" fill="#000" />
<rect x="109" y="109" width="1" height="9" fill="#000" />
<rect x="221" y="65" width="1" height="21" fill="#000" />
<rect x="219" y="68" width="5" height="12" fill="#000" />
<rect x="229" y="89" width="1" height="5" fill="#000" />
<rect x="227" y="89" width="5" height="3" fill="#000" />
<rect x="237" y="88" width="1" height="16" fill="#000" />
<rect x="235" y="91" width="5" height="6" fill="#000" />
<rect x="245" y="86" width="1" height="13" fill="#000" />
<rect x="243" y="90" width="5" height="7" fill="#000" />
<rect x="244" y="91" width="3" height="5" fill="#fff" />
<rect x="253" y="81" width="1" height="11" fill="#000" />
<rect x="251" y="88" width="5" height="3" fill="#000" />
<rect x="252" y="89" width="3" height="1" fill="#fff" />
<rect x="261" y="83" width="1" height="19" fill="#000" />
<rect x="259" y="85" width="5" height="4" fill="#000" />
<rect x="260" y="86" width="3" height="2" fill="#fff" />
<rect x="269" y="81" width="1" height="36" fill="#000" />
<rect x="267" y="84" width="5" height="27" fill="#000" />
<rect x="277" y="108" width="1" height="7" fill="#000" />
<rect x="275" y="109" width="5" height="6" fill="#000" />
<rect x="276" y="110" width="3" height="4" fill="#fff" />
<rect x="285" y="95" width="1" height="18" fill="#000" />
<rect x="283" y="106" width="5" height="5" fill="#000" />
<rect x="284" y="107" width="3" height="3" fill="#fff" />
<rect x="293" y="83" width="1" height="24" fill="#000" />
<rect x="291" y="88" width="5" height="19" fill="#000" />
<rect x="292" y="89" width="3" height="17" fill="#fff" />
<rect x="301" y="63" width="1" height="28" fill="#000" />
<rect x="299" y="65" width="5" height="24" fill="#000" />
<rect x="300" y="66" width="3" height="22" fill="#fff" />
<rect x="309" y="54" width="1" height="14" fill="#000" />
<rect x="307" y="59" width="5" height="7" fill="#000" />
<rect x="308" y="60" width="3" height="5" fill="#fff" />
<rect x="317" y="59" width="1" height="17" fill="#000" />
<rect x="315" y="59" width="5" height="15" fill="#000" />
<rect x="325" y="72" width="1" height="11" fill="#000" />
<rect x="323" y="75" width="5" height="5" fill="#000" />
<rect x="333" y="64" width="1" height="16" fill="#000" />
<rect x="331" y="65" width="5" height="15" fill="#000" />
<rect x="332" y="66" width="3" height="13" fill="#fff" />
<rect x="341" y="58" width="1" height="11" fill="#000" />
<rect x="339" y="64" width="5" height="2" fill="#000" />
<rect x="349" y="51" width="1" height="16" fill="#000" />
<rect x="347" y="56" width="5" height="9" fill="#000" />
<rect x="348" y="57" width="3" height="7" fill="#fff" />
<rect x="357" y="52" width="1" height="13" fill="#000" />
<rect x="355" y="56" width="5" height="2" fill="#000" />
<rect x="365" y="52" width="1" height="12" fill="#000" />
<rect x="363" y="57" width="5" height="1" fill="#000" />
<rect x="373" y="54" width="1" height="5" fill="#000" />
<rect x="371" y="55" width="5" height="4" fill="#000" />
<rect x="372" y="56" width="3" height="2" fill="#fff" />
<rect x="381" y="54" width="1" height="8" fill="#000" />
<rect x="379" y="55" width="5" height="5" fill="#000" />
<rect x="389" y="59" width="1" height="13" fill="#000" />
<rect x="387" y="59" width="5" height="4" fill="#000" />
<rect x="397" y="57" width="1" height="9" fill="#000" />
<rect x="395" y="58" width="5" height="5" fill="#000" />
<rect x="396" y="59" width="3" height="3" fill="#fff" />
<rect x="405" y="56" width="1" height="24" fill="#000" />
<rect x="403" y="58" width="5" height="16" fill="#000" />
<rect x="413" y="69" width="1" height="13" fill="#000" />
<rect x="411" y="72" width="5" height="5" fill="#000" />
<rect x="421" y="87" width="1" height="9" fill="#000" />
<rect x="419" y="87" width="5" height="6" fill="#000" />
<rect x="429" y="90" width="1" height="38" fill="#000" />
<rect x="427" y="92" width="5" height="28" fill="#000" />
<rect x="437" y="110" width="1" height="59" fill="#000" />
<rect x="435" y="119" width="5" height="37" fill="#000" />
<rect x="445" y="143" width="1" height="39" fill="#000" />
<rect x="443" y="154" width="5" height="20" fill="#000" />
<rect x="453" y="172" width="1" height="69" fill="#000" />
<rect x="451" y="173" width="5" height="57" fill="#000" />
<rect x="461" y="223" width="1" height="51" fill="#000" />
<rect x="459" y="228" width="5" height="7" fill="#000" />
<rect x="469" y="248" width="1" height="18" fill="#000" />
<rect x="467" y="249" width="5" height="6" fill="#000" />
<rect x="477" y="180" width="1" height="79" fill="#000" />
<rect x="475" y="183" width="5" height="71" fill="#000" />
<rect x="476" y="184" width="3" height="69" fill="#fff" />
<rect x="485" y="164" width="1" height="64" fill="#000" />
<rect x="483" y="183" width="5" height="39" fill="#000" />
<rect x="493" y="163" width="1" height="59" fill="#000" />
<rect x="491" y="171" width="5" height="51" fill="#000" />
<rect x="492" y="172" width="3" height="49" fill="#fff" />
<rect x="501" y="171" width="1" height="46" fill="#000" />
<rect x="499" y="172" width="5" height="33" fill="#000" />
<rect x="509" y="200" width="1" height="50" fill="#000" />
<rect x="507" y="204" width="5" height="19" fill="#000" />
<rect x="517" y="264" width="1" height="11" fill="#000" />
<rect x="515" y="267" width="5" height="7" fill="#000" />
<rect x="525" y="268" width="1" height="64" fill="#000" />
<rect x="523" y="273" width="5" height="18" fill="#000" />
<rect x="533" y="257" width="1" height="64" fill="#000" />
<rect x="531" y="279" width="5" height="11" fill="#000" />
<rect x="532" y="280" width="3" height="9" fill="#fff" />
<rect x="541" y="273" width="1" height="64" fill="#000" />
<rect x="539" y="279" width="5" height="48" fill="#000" />
<rect x="549" y="323" width="1" height="136" fill="#000" />
<rect x="547" y="326" width="5" height="124" fill="#000" />
<rect x="557" y="343" width="1" height="127" fill="#000" />
<rect x="555" y="348" width="5" height="102" fill="#000" />
<rect x="556" y="349" width="3" height="100" fill="#fff" />
<rect x="565" y="396" width="1" height="3" fill="#000" />
<rect x="563" y="397" width="5" height="2" fill="#000" />
<rect x="573" y="398" width="1" height="86" fill="#000" />
<rect x="571" y="398" width="5" height="59" fill="#000" />
<rect x="581" y="424" width="1" height="69" fill="#000" />
<rect x="579" y="456" width="5" height="20" fill="#000" />
<rect x="589" y="460" width="1" height="83" fill="#000" />
<rect x="587" y="475" width="5" height="2" fill="#000" />
<rect x="597" y="471" width="1" height="69" fill="#000" />
<rect x="595" y="476" width="5" height="28" fill="#000" />
<rect x="605" y="446" width="1" height="88" fill="#000" />
<rect x="603" y="504" width="5" height="27" fill="#000" />
<rect x="613" y="555" width="1" height="21" fill="#000" />
<rect x="611" y="569" width="5" height="7" fill="#000" />
<rect x="612" y="570" width="3" height="5" fill="#fff" />
<rect x="621" y="496" width="1" height="81" fill="#000" />
<rect x="619" y="544" width="5" height="25" fill="#000" />
<rect x="620" y="545" width="3" height="23" fill="#fff" />
<rect x="629" y="443" width="1" height="106" fill="#000" />
<rect x="627" y="463" width="5" height="81" fill="#000" />
<rect x="628" y="464" width="3" height="79" fill="#fff" />
<rect x="637" y="400" width="1" height="74" fill="#000" />
<rect x="635" y="436" width="5" height="29" fill="#000" />
<rect x="636" y="437" width="3" height="27" fill="#fff" />
<rect x="645" y="371" width="1" height="93" fill="#000" />
<rect x="643" y="372" width="5" height="66" fill="#000" />
<rect x="644" y="373" width="3" height="64" fill="#fff" />
<rect x="653" y="371" width="1" height="56" fill="#000" />
<rect x="651" y="372" width="5" height="49" fill="#000" />
<rect x="661" y="431" width="1" height="11" fill="#000" />
<rect x="659" y="435" width="5" height="5" fill="#000" />
<rect x="660" y="436" width="3" height="3" fill="#fff" />
<rect x="669" y="384" width="1" height="54" fill="#000" />
<rect x="667" y="386" width="5" height="49" fill="#000" />
<rect x="668" y="387" width="3" height="47" fill="#fff" />
<rect x="677" y="378" width="1" height="42" fill="#000" />
<rect x="675" y="385" width="5" height="34" fill="#000" />
<rect x="685" y="415" width="1" height="43" fill="#000" />
<rect x="683" y="418" width="5" height="26" fill="#000" />
<rect x="693" y="424" width="1" height="40" fill="#000" />
<rect x="691" y="433" width="5" height="11" fill="#000" />
<rect x="692" y="434" width="3" height="9" fill="#fff" />
<rect x="701" y="426" width="1" height="27" fill="#000" />
<rect x="699" y="434" width="5" height="10" fill="#000" />
<rect x="709" y="429" width="1" height="5" fill="#000" />
<rect x="707" y="430" width="5" height="3" fill="#000" />
<rect x="708" y="431" width="3" height="1" fill="#fff" />
<rect x="717" y="365" width="1" height="66" fill="#000" />
<rect x="715" y="366" width="5" height="65" fill="#000" />
<rect x="716" y="367" width="3" height="63" fill="#fff" />
<rect x="725" y="328" width="1" height="54" fill="#000" />
<rect x="723" y="366" width="5" height="6" fill="#000" />
<rect x="733" y="330" width="1" height="55" fill="#000" />
<rect x="731" y="331" width="5" height="41" fill="#000" />
<rect x="732" y="332" width="3" height="39" fill="#fff" />
<rect x="741" y="309" width="1" height="40" fill="#000" />
<rect x="739" y="318" width="5" height="15" fill="#000" />
<rect x="740" y="319" width="3" height="13" fill="#fff" />
<rect x="749" y="328" width="1" height="10" fill="#000" />
<rect x="747" y="330" width="5" height="6" fill="#000" />
<rect x="757" y="322" width="1" height="30" fill="#000" />
<rect x="755" y="332" width="5" height="3" fill="#000" />
<rect x="756" y="333" width="3" height="1" fill="#fff" />
<rect x="765" y="305" width="1" height="34" fill="#000" />
<rect x="763" y="311" width="5" height="22" fill="#000" />
<rect x="764" y="312" width="3" height="20" fill="#fff" />
<rect x="773" y="311" width="1" height="35" fill="#000" />
<rect x="771" y="311" width="5" height="30" fill="#000" />
<rect x="781" y="289" width="1" height="58" fill="#000" />
<rect x="779" y="296" width="5" height="45" fill="#000" />
<rect x="780" y="297" width="3" height="43" fill="#fff" />
<rect x="789" y="290" width="1" height="28" fill="#000" />
<rect x="787" y="296" width="5" height="2" fill="#000" />
<rect x="797" y="302" width="1" height="6" fill="#000" />
<rect x="795" y="305" width="5" height="1" fill="#000" />
<rect x="805" y="295" width="1" height="35" fill="#000" />
<rect x="803" y="304" width="5" height="21" fill="#000" />
<rect x="813" y="318" width="1" height="41" fill="#000" />
<rect x="811" y="324" width="5" height="26" fill="#000" />
<rect x="821" y="327" width="1" height="32" fill="#000" />
<rect x="819" y="336" width="5" height="13" fill="#000" />
<rect x="820" y="337" width="3" height="11" fill="#fff" />
<rect x="829" y="314" width="1" height="26" fill="#000" />
<rect x="827" y="336" width="5" height="2" fill="#000" />
<rect x="837" y="317" width="1" height="26" fill="#000" />
<rect x="835" y="320" width="5" height="18" fill="#000" />
<rect x="836" y="321" width="3" height="16" fill="#fff" />
<rect x="845" y="320" width="1" height="4" fill="#000" />
<rect x="843" y="322" width="5" height="2" fill="#000" />
<rect x="853" y="299" width="1" height="26" fill="#000" />
<rect x="851" y="303" width="5" height="20" fill="#000" />
<rect x="852" y="304" width="3" height="18" fill="#fff" />
<rect x="861" y="284" width="1" height="26" fill="#000" />
<rect x="859" y="301" width="5" height="4" fill="#000" />
<rect x="860" y="302" width="3" height="2" fill="#fff" />
<rect x="869" y="273" width="1" height="30" fill="#000" />
<rect x="867" y="277" width="5" height="25" fill="#000" />
<rect x="868" y="278" width="3" height="23" fill="#fff" />
<rect x="877" y="268" width="1" height="43" fill="#000" />
<rect x="875" y="277" width="5" height="26" fill="#000" />
<rect x="885" y="300" width="1" height="26" fill="#000" />
<rect x="883" y="302" width="5" height="20" fill="#000" />
<rect x="893" y="335" width="1" height="5" fill="#000" />
<rect x="891" y="336" width="5" height="2" fill="#000" />
<rect x="901" y="318" width="1" height="23" fill="#000" />
<rect x="899" y="320" width="5" height="18" fill="#000" />
<rect x="900" y="321" width="3" height="16" fill="#fff" />
<rect x="909" y="301" width="1" height="20" fill="#000" />
<rect x="907" y="312" width="5" height="9" fill="#000" />
<rect x="908" y="313" width="3" height="7" fill="#fff" />
<rect x="917" y="304" width="1" height="27" fill="#000" />
<rect x="915" y="312" width="5" height="15" fill="#000" />
<rect x="925" y="304" width="1" height="23" fill="#000" />
<rect x="923" y="306" width="5" height="21" fill="#000" />
<rect x="924" y="307" width="3" height="19" fill="#fff" />
<rect x="933" y="290" width="1" height="17" fill="#000" />
<rect x="931" y="291" width="5" height="16" fill="#000" />
<rect x="932" y="292" width="3" height="14" fill="#fff" />
<rect x="941" y="286" width="1" height="8" fill="#000" />
<rect x="939" y="286" width="5" height="6" fill="#000" />
<rect x="940" y="287" width="3" height="4" fill="#fff" />
<rect x="949" y="282" width="1" height="24" fill="#000" />
<rect x="947" y="286" width="5" height="15" fill="#000" />
<rect x="957" y="290" width="1" height="43" fill="#000" />
<rect x="955" y="300" width="5" height="32" fill="#000" />
<rect x="965" y="314" width="1" height="37" fill="#000" />
<rect x="963" y="330" width="5" height="10" fill="#000" />
<rect x="973" y="321" width="1" height="43" fill="#000" />
<rect x="971" y="322" width="5" height="18" fill="#000" />
<rect x="972" y="323" width="3" height="16" fill="#fff" />
<rect x="981" y="319" width="1" height="20" fill="#000" />
<rect x="979" y="321" width="5" height="6" fill="#000" />
<rect x="989" y="315" width="1" height="5" fill="#000" />
<rect x="987" y="317" width="5" height="1" fill="#000" />
<rect x="997" y="275" width="1" height="44" fill="#000" />
<rect x="995" y="278" width="5" height="40" fill="#000" />
<rect x="996" y="279" width="3" height="38" fill="#fff" />
<rect x="1005" y="269" width="1" height="32" fill="#000" />
<rect x="1003" y="278" width="5" height="17" fill="#000" />
<rect x="1013" y="277" width="1" height="18" fill="#000" />
<rect x="1011" y="282" width="5" height="13" fill="#000" />
<rect x="1012" y="283" width="3" height="11" fill="#fff" />
<rect x="1021" y="274" width="1" height="17" fill="#000" />
<rect x="1019" y="282" width="5" height="1" fill="#000" />
<rect x="1029" y="280" width="1" height="20" fill="#000" />
<rect x="1027" y="282" width="5" height="3" fill="#000" />
<rect x="1037" y="278" width="1" height="3" fill="#000" />
<rect x="1035" y="279" width="5" height="2" fill="#000" />
<rect x="1045" y="270" width="1" height="15" fill="#000" />
<rect x="1043" y="274" width="5" height="6" fill="#000" />
<rect x="1044" y="275" width="3" height="4" fill="#fff" />
<rect x="1053" y="252" width="1" height="24" fill="#000" />
<rect x="1051" y="259" width="5" height="16" fill="#000" />
<rect x="1052" y="260" width="3" height="14" fill="#fff" />
<rect x="1061" y="228" width="1" height="35" fill="#000" />
<rect x="1059" y="228" width="5" height="32" fill="#000" />
<rect x="1060" y="229" width="3" height="30" fill="#fff" />
<rect x="1069" y="222" width="1" height="23" fill="#000" />
<rect x="1067" y="229" width="5" height="15" fill="#000" />
<rect x="1077" y="236" width="1" height="24" fill="#000" />
<rect x="1075" y="236" width="5" height="8" fill="#000" />
<rect x="1076" y="237" width="3" height="6" fill="#fff" />
<rect x="1085" y="247" width="1" height="5" fill="#000" />
<rect x="1083" y="247" width="5" height="3" fill="#000" />
<rect x="1084" y="248" width="3" height="1" fill="#fff" />
<rect x="1093" y="234" width="1" height="16" fill="#000" />
<rect x="1091" y="243" width="5" height="5" fill="#000" />
<rect x="1092" y="244" width="3" height="3" fill="#fff" />
<rect x="1101" y="221" width="1" height="24" fill="#000" />
<rect x="1099" y="221" width="5" height="23" fill="#000" />
<rect x="1100" y="222" width="3" height="21" fill="#fff" />
<rect x="1109" y="197" width="1" height="27" fill="#000" />
<rect x="1107" y="198" width="5" height="24" fill="#000" />
<rect x="1108" y="199" width="3" height="22" fill="#fff" />
<rect x="1117" y="196" width="1" height="15" fill="#000" />
<rect x="1115" y="198" width="5" height="5" fill="#000" />
<rect x="1125" y="152" width="1" height="52" fill="#000" />
<rect x="1123" y="164" width="5" height="39" fill="#000" />
<rect x="1124" y="165" width="3" height="37" fill="#fff" />
<rect x="1133" y="153" width="1" height="6" fill="#000" />
<rect x="1131" y="155" width="5" height="3" fill="#000" />
<rect x="1132" y="156" width="3" height="1" fill="#fff" />
<rect x="1141" y="141" width="1" height="25" fill="#000" />
<rect x="1139" y="142" width="5" height="14" fill="#000" />
<rect x="1140" y="143" width="3" height="12" fill="#fff" />
<rect x="1149" y="138" width="1" height="24" fill="#000" />
<rect x="1147" y="142" width="5" height="10" fill="#000" />
<rect x="1157" y="145" width="1" height="36" fill="#000" />
<rect x="1155" y="151" width="5" height="29" fill="#000" />
<rect x="1165" y="172" width="1" height="84" fill="#000" />
<rect x="1163" y="178" width="5" height="65" fill="#000" />
<rect x="1173" y="215" width="1" height="41" fill="#000" />
<rect x="1171" y="234" width="5" height="8" fill="#000" />
<rect x="1172" y="235" width="3" height="6" fill="#fff" />
<rect x="1181" y="244" width="1" height="9" fill="#000" />
<rect x="1179" y="245" width="5" height="4" fill="#000" />
<rect x="1189" y="210" width="1" height="69" fill="#000" />
<rect x="1187" y="210" width="5" height="40" fill="#000" />
<rect x="1188" y="211" width="3" height="38" fill="#fff" />
<rect x="1197" y="177" width="1" height="46" fill="#000" />
<rect x="1195" y="201" width="5" height="10" fill="#000" />
<rect x="1196" y="202" width="3" height="8" fill="#fff" />
<rect x="1205" y="190" width="1" height="30" fill="#000" />
<rect x="1203" y="201" width="5" height="18" fill="#000" />
<rect x="1213" y="206" width="1" height="25" fill="#000" />
<rect x="1211" y="209" width="5" height="11" fill="#000" />
<rect x="1212" y="210" width="3" height="9" fill="#fff" />
<rect x="1221" y="198" width="1" height="37" fill="#000" />
<rect x="1219" y="209" width="5" height="25" fill="#000" />
<rect x="1229" y="235" width="1" height="8" fill="#000" />
<rect x="1227" y="237" width="5" height="1" fill="#000" />
<rect x="1237" y="209" width="1" height="32" fill="#000" />
<rect x="1235" y="209" width="5" height="29" fill="#000" />
<rect x="1236" y="210" width="3" height="27" fill="#fff" />
<rect x="1245" y="199" width="1" height="37" fill="#000" />
<rect x="1243" y="210" width="5" height="6" fill="#000" />
<rect x="1253" y="207" width="1" height="45" fill="#000" />
<rect x="1251" y="214" width="5" height="32" fill="#000" />
<rect x="1261" y="228" width="1" height="31" fill="#000" />
<rect x="1259" y="233" width="5" height="12" fill="#000" />
<rect x="1260" y="234" width="3" height="10" fill="#fff" />
<rect x="1269" y="228" width="1" height="38" fill="#000" />
<rect x="1267" y="234" width="5" height="27" fill="#000" />
<rect x="1277" y="261" width="1" height="8" fill="#000" />
<rect x="1275" y="263" width="5" height="3" fill="#000" />
<rect x="1285" y="230" width="1" height="37" fill="#000" />
<rect x="1283" y="233" width="5" height="31" fill="#000" />
<rect x="1284" y="234" width="3" height="29" fill="#fff" />
<rect x="1293" y="223" width="1" height="22" fill="#000" />
<rect x="1291" y="230" width="5" height="4" fill="#000" />
<rect x="1292" y="231" width="3" height="2" fill="#fff" />
<rect x="1301" y="217" width="1" height="25" fill="#000" />
<rect x="1299" y="230" width="5" height="2" fill="#000" />
<rect x="1309" y="209" width="1" height="27" fill="#000" />
<rect x="1307" y="224" width="5" height="9" fill="#000" />
<rect x="1308" y="225" width="3" height="7" fill="#fff" />
<rect x="1317" y="218" width="1" height="21" fill="#000" />
<rect x="1315" y="224" width="5" height="7" fill="#000" />
<rect x="1325" y="220" width="1" height="4" fill="#000" />
<rect x="1323" y="220" width="5" height="3" fill="#000" />
<rect x="1324" y="221" width="3" height="1" fill="#fff" />
<rect x="1333" y="201" width="1" height="21" fill="#000" />
<rect x="1331" y="203" width="5" height="18" fill="#000" />
<rect x="1332" y="204" width="3" height="16" fill="#fff" />
<rect x="1341" y="200" width="1" height="25" fill="#000" />
<rect x="1339" y="203" width="5" height="19" fill="#000" />
<rect x="1349" y="211" width="1" height="18" fill="#000" />
<rect x="1347" y="213" width="5" height="9" fill="#000" />
<rect x="1348" y="214" width="3" height="7" fill="#fff" />
<rect x="1357" y="212" width="1" height="29" fill="#000" />
<rect x="1355" y="213" width="5" height="15" fill="#000" />
<rect x="1365" y="213" width="1" height="33" fill="#000" />
<rect x="1363" y="213" width="5" height="15" fill="#000" />
<rect x="1364" y="214" width="3" height="13" fill="#fff" />
<rect x="1373" y="206" width="1" height="5" fill="#000" />
<rect x="1371" y="207" width="5" height="4" fill="#000" />
<rect x="1381" y="198" width="1" height="19" fill="#000" />
<rect x="1379" y="209" width="5" height="3" fill="#000" />
<rect x="1389" y="175" width="1" height="44" fill="#000" />
<rect x="1387" y="178" width="5" height="34" fill="#000" />
<rect x="1388" y="179" width="3" height="32" fill="#fff" />
<rect x="1397" y="164" width="1" height="23" fill="#000" />
<rect x="1395" y="178" width="5" height="2" fill="#000" />
<rect x="1405" y="177" width="1" height="12" fill="#000" />
<rect x="1403" y="178" width="5" height="7" fill="#000" />
<rect x="1413" y="179" width="1" height="10" fill="#000" />
<rect x="1411" y="179" width="5" height="10" fill="#000" />
<rect x="1421" y="185" width="1" height="4" fill="#000" />
<rect x="1419" y="185" width="5" height="4" fill="#000" />
<rect x="1420" y="186" width="3" height="2" fill="#fff" />
<rect x="1429" y="185" width="1" height="4" fill="#000" />
<rect x="1427" y="185" width="5" height="3" fill="#000" />
<rect x="1437" y="171" width="1" height="15" fill="#000" />
<rect x="1435" y="178" width="5" height="7" fill="#000" />
<rect x="1436" y="179" width="3" height="5" fill="#fff" />
</g>
<g class="c">
<rect x="1335" y="189" width="152" height="9" fill="#00ff00" />
<rect x="1246" y="192" width="10" height="1" fill="#ff0000" />
<rect x="1256.5" y="180.5" width="73" height="24" fill="#fff" stroke="#ff0000" stroke-width="1"/>
</g>
<text x="1258" y="200.8" font-size="22.8" fill="#ff0000" text-anchor="start" font-weight="normal" textLength="70.6" lengthAdjust="spacingAndGlyphs">26440.4</text>
<g fill="#ff0000" stroke="none" shape-rendering="crispEdges">
<line x1="1365.6" y1="240.6" x2="1399.5" y2="166.7" stroke="#ff0000" stroke-width="3.3" stroke-linecap="round"/>
<polygon points="1400.7,164.0 1401.1,176.8 1390.7,172.1"/>
<line x1="1400.8" y1="164.6" x2="1417.1" y2="188.3" stroke="#ff0000" stroke-width="3.3" stroke-linecap="round"/>
<polygon points="1418.8,190.8 1407.9,183.7 1416.1,178.1"/>
<line x1="1419.0" y1="190.2" x2="1480.2" y2="154.7" stroke="#ff0000" stroke-width="3.0" stroke-linecap="round"/>
<polygon points="1482.8,153.2 1475.8,162.1 1471.6,154.8"/>
</g>
<text x="1507.5" y="192.3" font-size="21" fill="#00ff00" stroke="#00ff00" stroke-width="0.4" text-anchor="start" letter-spacing="2.1" style="font-family:'Liberation Serif','Noto Serif CJK SC',serif">多空转折点</text>
<defs>
<linearGradient id="gp" gradientUnits="userSpaceOnUse" x1="0" y1="43" x2="0" y2="107"><stop offset="0" stop-color="#f85050"/><stop offset="0.36" stop-color="#db3030"/><stop offset="0.8" stop-color="#bb0c0c"/><stop offset="1" stop-color="#ad0000"/></linearGradient>
</defs>
<g class="c">
<rect x="0" y="43" width="221" height="66" fill="#fff" />
<rect x="0" y="43" width="52" height="25" fill="url(#gp)" />
<rect x="0" y="67" width="109" height="40" fill="url(#gp)" />
<rect x="167" y="43" width="52" height="25" fill="url(#gp)" />
<rect x="111" y="67" width="108" height="40" fill="url(#gp)" />
<rect x="0" y="43" width="52" height="1" fill="#c01414" opacity="0.75"/>
<rect x="0" y="43" width="1" height="64" fill="#c01414" opacity="0.75"/>
<rect x="167" y="43" width="52" height="1" fill="#c01414" opacity="0.75"/>
<rect x="218" y="43" width="1" height="64" fill="#c01414" opacity="0.75"/>
<rect x="0" y="106" width="109" height="1" fill="#c01414" opacity="0.75"/>
<rect x="111" y="106" width="108" height="1" fill="#c01414" opacity="0.75"/>
<rect x="51" y="43" width="1" height="24" fill="#c01414" opacity="0.75"/>
<rect x="167" y="43" width="1" height="24" fill="#c01414" opacity="0.75"/>
<rect x="52" y="67" width="57" height="1" fill="#c01414" opacity="0.75"/>
<rect x="111" y="67" width="56" height="1" fill="#c01414" opacity="0.75"/>
<rect x="108" y="67" width="1" height="40" fill="#c01414" opacity="0.75"/>
<rect x="111" y="67" width="1" height="40" fill="#c01414" opacity="0.75"/>
<rect x="4" y="67" width="44" height="1" fill="#a01010" />
<rect x="4" y="68" width="44" height="1" fill="#e85a5a" opacity="0.6"/>
<rect x="171" y="67" width="44" height="1" fill="#a01010" />
<rect x="171" y="68" width="44" height="1" fill="#e85a5a" opacity="0.6"/>
<rect x="54" y="43" width="111" height="22" fill="#a6a6a6" />
<rect x="55" y="44" width="109" height="20" fill="#fff" />
<rect x="55" y="44" width="20" height="20" fill="url(#gbtn)" />
<rect x="75" y="44" width="1" height="20" fill="#b4b4b4" />
<rect x="144" y="44" width="20" height="20" fill="url(#gbtn)" />
<rect x="143" y="44" width="1" height="20" fill="#b4b4b4" />
</g>
<polygon points="62,52.2 68,52.2 65,55.6" fill="#4a5fc0"/>
<polygon points="151,55.4 157,55.4 154,52" fill="#4a5fc0"/>
<text x="12.2" y="58.7" font-size="12.2" fill="#fff" text-anchor="start" font-weight="normal" textLength="25.6" lengthAdjust="spacingAndGlyphs">SELL</text>
<text x="180.6" y="58.7" font-size="12.2" fill="#fff" text-anchor="start" font-weight="normal" textLength="22.6" lengthAdjust="spacingAndGlyphs">BUY</text>
<text x="139.9" y="58.5" font-size="12.6" fill="#10102c" text-anchor="end" font-weight="normal" textLength="23.2" lengthAdjust="spacingAndGlyphs">1.00</text>
<text x="16.2" y="97.9" font-size="11.8" fill="#fff" text-anchor="start" font-weight="bold" textLength="34.4" lengthAdjust="spacingAndGlyphs">26718</text>
<text x="126" y="97.9" font-size="11.8" fill="#fff" text-anchor="start" font-weight="bold" textLength="34.6" lengthAdjust="spacingAndGlyphs">26730</text>
<rect x="55.6" y="94" width="4.2" height="4.2" fill="#fff" />
<rect x="166.3" y="94" width="4.2" height="4.2" fill="#fff" />
<text x="61.8" y="98.5" font-size="35.2" fill="#fff" text-anchor="start" font-weight="normal" textLength="17" lengthAdjust="spacingAndGlyphs">5</text>
<text x="173" y="98.5" font-size="35.2" fill="#fff" text-anchor="start" font-weight="normal" textLength="17" lengthAdjust="spacingAndGlyphs">5</text>
<polygon points="0.5,35 8.8,35 4.6,30.6" fill="#000"/>
<text x="12.6" y="35" font-size="10" fill="#000" text-anchor="start" font-weight="normal" textLength="47.80" lengthAdjust="spacingAndGlyphs">DJ30-,Daily</text>
<text x="67.4" y="35" font-size="10" fill="#000" text-anchor="start" font-weight="normal" textLength="140.60" lengthAdjust="spacingAndGlyphs">26611.0 26913.0 26594.0 26720.0</text>
<g class="c">
<rect x="0" y="23" width="1689" height="1" fill="#000" />
<rect x="1688" y="23" width="1" height="902" fill="#000" />
<rect x="0" y="590" width="1689" height="1" fill="#000" />
<rect x="0" y="592" width="1689" height="1" fill="#000" />
<rect x="0" y="748" width="1689" height="1" fill="#000" />
<rect x="0" y="750" width="1689" height="1" fill="#000" />
<rect x="0" y="924" width="1689" height="1" fill="#000" />
<rect x="1734" y="21" width="1" height="920" fill="#f0f0f0" />
<polygon points="1444.5,24 1454.8,24 1449.6,29.3" fill="#c0c0c0" shape-rendering="auto"/>
</g>
<g class="c">
<rect x="1689" y="26" width="2" height="1" fill="#000" />
<rect x="1689" y="59" width="2" height="1" fill="#000" />
<rect x="1689" y="92" width="2" height="1" fill="#000" />
<rect x="1689" y="125" width="2" height="1" fill="#000" />
<rect x="1689" y="158" width="2" height="1" fill="#000" />
<rect x="1689" y="191" width="2" height="1" fill="#000" />
<rect x="1689" y="224" width="2" height="1" fill="#000" />
<rect x="1689" y="257" width="2" height="1" fill="#000" />
<rect x="1689" y="290" width="2" height="1" fill="#000" />
<rect x="1689" y="323" width="2" height="1" fill="#000" />
<rect x="1689" y="356" width="2" height="1" fill="#000" />
<rect x="1689" y="389" width="2" height="1" fill="#000" />
<rect x="1689" y="422" width="2" height="1" fill="#000" />
<rect x="1689" y="455" width="2" height="1" fill="#000" />
<rect x="1689" y="488" width="2" height="1" fill="#000" />
<rect x="1689" y="521" width="2" height="1" fill="#000" />
<rect x="1689" y="554" width="2" height="1" fill="#000" />
<rect x="1689" y="587" width="2" height="1" fill="#000" />
</g>
<text x="1694" y="30" font-size="10" fill="#000" text-anchor="start" font-weight="normal" textLength="32.80" lengthAdjust="spacingAndGlyphs">30076.0</text>
<text x="1694" y="63" font-size="10" fill="#000" text-anchor="start" font-weight="normal" textLength="32.80" lengthAdjust="spacingAndGlyphs">29366.5</text>
<text x="1694" y="96" font-size="10" fill="#000" text-anchor="start" font-weight="normal" textLength="32.80" lengthAdjust="spacingAndGlyphs">28635.5</text>
<text x="1694" y="129" font-size="10" fill="#000" text-anchor="start" font-weight="normal" textLength="32.80" lengthAdjust="spacingAndGlyphs">27904.5</text>
<text x="1694" y="162" font-size="10" fill="#000" text-anchor="start" font-weight="normal" textLength="32.80" lengthAdjust="spacingAndGlyphs">27173.5</text>
<text x="1694" y="195" font-size="10" fill="#000" text-anchor="start" font-weight="normal" textLength="32.80" lengthAdjust="spacingAndGlyphs">26442.5</text>
<text x="1694" y="228" font-size="10" fill="#000" text-anchor="start" font-weight="normal" textLength="32.80" lengthAdjust="spacingAndGlyphs">25733.0</text>
<text x="1694" y="261" font-size="10" fill="#000" text-anchor="start" font-weight="normal" textLength="32.80" lengthAdjust="spacingAndGlyphs">25023.5</text>
<text x="1694" y="294" font-size="10" fill="#000" text-anchor="start" font-weight="normal" textLength="32.80" lengthAdjust="spacingAndGlyphs">24292.5</text>
<text x="1694" y="327" font-size="10" fill="#000" text-anchor="start" font-weight="normal" textLength="32.80" lengthAdjust="spacingAndGlyphs">23583.0</text>
<text x="1694" y="360" font-size="10" fill="#000" text-anchor="start" font-weight="normal" textLength="32.80" lengthAdjust="spacingAndGlyphs">22852.0</text>
<text x="1694" y="393" font-size="10" fill="#000" text-anchor="start" font-weight="normal" textLength="32.80" lengthAdjust="spacingAndGlyphs">22121.0</text>
<text x="1694" y="426" font-size="10" fill="#000" text-anchor="start" font-weight="normal" textLength="32.80" lengthAdjust="spacingAndGlyphs">21411.5</text>
<text x="1694" y="459" font-size="10" fill="#000" text-anchor="start" font-weight="normal" textLength="32.80" lengthAdjust="spacingAndGlyphs">20680.5</text>
<text x="1694" y="492" font-size="10" fill="#000" text-anchor="start" font-weight="normal" textLength="32.80" lengthAdjust="spacingAndGlyphs">19949.5</text>
<text x="1694" y="525" font-size="10" fill="#000" text-anchor="start" font-weight="normal" textLength="32.80" lengthAdjust="spacingAndGlyphs">19240.0</text>
<text x="1694" y="558" font-size="10" fill="#000" text-anchor="start" font-weight="normal" textLength="32.80" lengthAdjust="spacingAndGlyphs">18509.0</text>
<text x="1694" y="591" font-size="10" fill="#000" text-anchor="start" font-weight="normal" textLength="32.80" lengthAdjust="spacingAndGlyphs">17799.5</text>
<g class="c">
<rect x="1690" y="124" width="41" height="11" fill="#ff0000" />
<rect x="1690" y="155" width="41" height="11" fill="#ff0000" />
<rect x="1690" y="174" width="41" height="11" fill="#000000" />
<rect x="1690" y="186" width="41" height="11" fill="#32cd32" />
<rect x="1690" y="209" width="41" height="11" fill="#0000ff" />
<rect x="1690" y="234" width="41" height="11" fill="#0000ff" />
</g>
<text x="1694" y="133" font-size="10" fill="#fff" text-anchor="start" font-weight="normal" textLength="33.00" lengthAdjust="spacingAndGlyphs">27796.5</text>
<text x="1694" y="164" font-size="10" fill="#fff" text-anchor="start" font-weight="normal" textLength="33.00" lengthAdjust="spacingAndGlyphs">27118.4</text>
<text x="1694" y="183" font-size="10" fill="#fff" text-anchor="start" font-weight="normal" textLength="33.00" lengthAdjust="spacingAndGlyphs">26720.0</text>
<text x="1694" y="195" font-size="10" fill="#fff" text-anchor="start" font-weight="normal" textLength="33.00" lengthAdjust="spacingAndGlyphs">26440.4</text>
<text x="1694" y="218" font-size="10" fill="#fff" text-anchor="start" font-weight="normal" textLength="33.00" lengthAdjust="spacingAndGlyphs">25937.3</text>
<text x="1694" y="243" font-size="10" fill="#fff" text-anchor="start" font-weight="normal" textLength="33.00" lengthAdjust="spacingAndGlyphs">25390.5</text>
<text x="1.7" y="605" font-size="10" fill="#000" text-anchor="start" font-weight="normal" textLength="65.30" lengthAdjust="spacingAndGlyphs">MACD(12,26,9)</text>
<text x="70.2" y="605" font-size="10" fill="#000" text-anchor="start" font-weight="normal" textLength="27.90" lengthAdjust="spacingAndGlyphs">279.07</text>
<text x="101.3" y="605" font-size="10" fill="#000" text-anchor="start" font-weight="normal" textLength="27.00" lengthAdjust="spacingAndGlyphs">214.51</text>
<g class="c">
<rect x="5" y="631" width="1" height="9" fill="#c0c0c0" />
<rect x="13" y="631" width="1" height="9" fill="#c0c0c0" />
<rect x="21" y="631" width="1" height="9" fill="#c0c0c0" />
<rect x="29" y="631" width="1" height="9" fill="#c0c0c0" />
<rect x="37" y="630" width="1" height="10" fill="#c0c0c0" />
<rect x="45" y="630" width="1" height="10" fill="#c0c0c0" />
<rect x="53" y="631" width="1" height="9" fill="#c0c0c0" />
<rect x="61" y="631" width="1" height="9" fill="#c0c0c0" />
<rect x="69" y="630" width="1" height="10" fill="#c0c0c0" />
<rect x="77" y="631" width="1" height="9" fill="#c0c0c0" />
<rect x="85" y="632" width="1" height="8" fill="#c0c0c0" />
<rect x="93" y="632" width="1" height="8" fill="#c0c0c0" />
<rect x="101" y="634" width="1" height="6" fill="#c0c0c0" />
<rect x="109" y="633" width="1" height="7" fill="#c0c0c0" />
<rect x="117" y="632" width="1" height="8" fill="#c0c0c0" />
<rect x="125" y="632" width="1" height="8" fill="#c0c0c0" />
<rect x="133" y="632" width="1" height="8" fill="#c0c0c0" />
<rect x="141" y="632" width="1" height="8" fill="#c0c0c0" />
<rect x="149" y="632" width="1" height="8" fill="#c0c0c0" />
<rect x="157" y="632" width="1" height="8" fill="#c0c0c0" />
<rect x="165" y="631" width="1" height="9" fill="#c0c0c0" />
<rect x="173" y="630" width="1" height="10" fill="#c0c0c0" />
<rect x="181" y="628" width="1" height="12" fill="#c0c0c0" />
<rect x="189" y="629" width="1" height="11" fill="#c0c0c0" />
<rect x="197" y="629" width="1" height="11" fill="#c0c0c0" />
<rect x="205" y="629" width="1" height="11" fill="#c0c0c0" />
<rect x="213" y="629" width="1" height="11" fill="#c0c0c0" />
<rect x="221" y="631" width="1" height="9" fill="#c0c0c0" />
<rect x="229" y="633" width="1" height="7" fill="#c0c0c0" />
<rect x="237" y="636" width="1" height="4" fill="#c0c0c0" />
<rect x="245" y="637" width="1" height="3" fill="#c0c0c0" />
<rect x="253" y="638" width="1" height="2" fill="#c0c0c0" />
<rect x="261" y="639" width="1" height="1" fill="#c0c0c0" />
<rect x="269" y="639" width="1" height="1" fill="#c0c0c0" />
<rect x="277" y="639" width="1" height="3" fill="#c0c0c0" />
<rect x="285" y="639" width="1" height="3" fill="#c0c0c0" />
<rect x="293" y="639" width="1" height="3" fill="#c0c0c0" />
<rect x="301" y="639" width="1" height="2" fill="#c0c0c0" />
<rect x="309" y="639" width="1" height="2" fill="#c0c0c0" />
<rect x="317" y="639" width="1" height="2" fill="#c0c0c0" />
<rect x="325" y="639" width="1" height="2" fill="#c0c0c0" />
<rect x="333" y="636" width="1" height="4" fill="#c0c0c0" />
<rect x="341" y="635" width="1" height="5" fill="#c0c0c0" />
<rect x="349" y="633" width="1" height="7" fill="#c0c0c0" />
<rect x="357" y="633" width="1" height="7" fill="#c0c0c0" />
<rect x="365" y="631" width="1" height="9" fill="#c0c0c0" />
<rect x="373" y="631" width="1" height="9" fill="#c0c0c0" />
<rect x="381" y="632" width="1" height="8" fill="#c0c0c0" />
<rect x="389" y="632" width="1" height="8" fill="#c0c0c0" />
<rect x="397" y="633" width="1" height="7" fill="#c0c0c0" />
<rect x="405" y="633" width="1" height="7" fill="#c0c0c0" />
<rect x="413" y="635" width="1" height="5" fill="#c0c0c0" />
<rect x="421" y="638" width="1" height="2" fill="#c0c0c0" />
<rect x="429" y="638" width="1" height="2" fill="#c0c0c0" />
<rect x="437" y="639" width="1" height="7" fill="#c0c0c0" />
<rect x="445" y="639" width="1" height="13" fill="#c0c0c0" />
<rect x="453" y="639" width="1" height="22" fill="#c0c0c0" />
<rect x="461" y="639" width="1" height="29" fill="#c0c0c0" />
<rect x="469" y="639" width="1" height="36" fill="#c0c0c0" />
<rect x="477" y="639" width="1" height="35" fill="#c0c0c0" />
<rect x="485" y="639" width="1" height="37" fill="#c0c0c0" />
<rect x="493" y="639" width="1" height="35" fill="#c0c0c0" />
<rect x="501" y="639" width="1" height="35" fill="#c0c0c0" />
<rect x="509" y="639" width="1" height="36" fill="#c0c0c0" />
<rect x="517" y="639" width="1" height="40" fill="#c0c0c0" />
<rect x="525" y="639" width="1" height="44" fill="#c0c0c0" />
<rect x="533" y="639" width="1" height="46" fill="#c0c0c0" />
<rect x="541" y="639" width="1" height="51" fill="#c0c0c0" />
<rect x="549" y="639" width="1" height="64" fill="#c0c0c0" />
<rect x="557" y="639" width="1" height="65" fill="#c0c0c0" />
<rect x="565" y="639" width="1" height="69" fill="#c0c0c0" />
<rect x="573" y="639" width="1" height="76" fill="#c0c0c0" />
<rect x="581" y="639" width="1" height="83" fill="#c0c0c0" />
<rect x="589" y="639" width="1" height="86" fill="#c0c0c0" />
<rect x="597" y="639" width="1" height="91" fill="#c0c0c0" />
<rect x="605" y="639" width="1" height="95" fill="#c0c0c0" />
<rect x="613" y="639" width="1" height="100" fill="#c0c0c0" />
<rect x="621" y="639" width="1" height="102" fill="#c0c0c0" />
<rect x="629" y="639" width="1" height="95" fill="#c0c0c0" />
<rect x="637" y="639" width="1" height="87" fill="#c0c0c0" />
<rect x="645" y="639" width="1" height="74" fill="#c0c0c0" />
<rect x="653" y="639" width="1" height="67" fill="#c0c0c0" />
<rect x="661" y="639" width="1" height="62" fill="#c0c0c0" />
<rect x="669" y="639" width="1" height="54" fill="#c0c0c0" />
<rect x="677" y="639" width="1" height="49" fill="#c0c0c0" />
<rect x="685" y="639" width="1" height="47" fill="#c0c0c0" />
<rect x="693" y="639" width="1" height="44" fill="#c0c0c0" />
<rect x="701" y="639" width="1" height="41" fill="#c0c0c0" />
<rect x="709" y="639" width="1" height="38" fill="#c0c0c0" />
<rect x="717" y="639" width="1" height="30" fill="#c0c0c0" />
<rect x="725" y="639" width="1" height="24" fill="#c0c0c0" />
<rect x="733" y="639" width="1" height="16" fill="#c0c0c0" />
<rect x="741" y="639" width="1" height="8" fill="#c0c0c0" />
<rect x="749" y="639" width="1" height="4" fill="#c0c0c0" />
<rect x="757" y="639" width="1" height="1" fill="#c0c0c0" />
<rect x="765" y="635" width="1" height="5" fill="#c0c0c0" />
<rect x="773" y="633" width="1" height="7" fill="#c0c0c0" />
<rect x="781" y="629" width="1" height="11" fill="#c0c0c0" />
<rect x="789" y="626" width="1" height="14" fill="#c0c0c0" />
<rect x="797" y="624" width="1" height="16" fill="#c0c0c0" />
<rect x="805" y="624" width="1" height="16" fill="#c0c0c0" />
<rect x="813" y="625" width="1" height="15" fill="#c0c0c0" />
<rect x="821" y="627" width="1" height="13" fill="#c0c0c0" />
<rect x="829" y="627" width="1" height="13" fill="#c0c0c0" />
<rect x="837" y="627" width="1" height="13" fill="#c0c0c0" />
<rect x="845" y="627" width="1" height="13" fill="#c0c0c0" />
<rect x="853" y="627" width="1" height="13" fill="#c0c0c0" />
<rect x="861" y="626" width="1" height="14" fill="#c0c0c0" />
<rect x="869" y="623" width="1" height="17" fill="#c0c0c0" />
<rect x="877" y="623" width="1" height="17" fill="#c0c0c0" />
<rect x="885" y="625" width="1" height="15" fill="#c0c0c0" />
<rect x="893" y="627" width="1" height="13" fill="#c0c0c0" />
<rect x="901" y="629" width="1" height="11" fill="#c0c0c0" />
<rect x="909" y="629" width="1" height="11" fill="#c0c0c0" />
<rect x="917" y="631" width="1" height="9" fill="#c0c0c0" />
<rect x="925" y="630" width="1" height="10" fill="#c0c0c0" />
<rect x="933" y="629" width="1" height="11" fill="#c0c0c0" />
<rect x="941" y="627" width="1" height="13" fill="#c0c0c0" />
<rect x="949" y="628" width="1" height="12" fill="#c0c0c0" />
<rect x="957" y="631" width="1" height="9" fill="#c0c0c0" />
<rect x="965" y="634" width="1" height="6" fill="#c0c0c0" />
<rect x="973" y="635" width="1" height="5" fill="#c0c0c0" />
<rect x="981" y="636" width="1" height="4" fill="#c0c0c0" />
<rect x="989" y="636" width="1" height="4" fill="#c0c0c0" />
<rect x="997" y="633" width="1" height="7" fill="#c0c0c0" />
<rect x="1005" y="632" width="1" height="8" fill="#c0c0c0" />
<rect x="1013" y="632" width="1" height="8" fill="#c0c0c0" />
<rect x="1021" y="630" width="1" height="10" fill="#c0c0c0" />
<rect x="1029" y="629" width="1" height="11" fill="#c0c0c0" />
<rect x="1037" y="628" width="1" height="12" fill="#c0c0c0" />
<rect x="1045" y="627" width="1" height="13" fill="#c0c0c0" />
<rect x="1053" y="626" width="1" height="14" fill="#c0c0c0" />
<rect x="1061" y="622" width="1" height="18" fill="#c0c0c0" />
<rect x="1069" y="621" width="1" height="19" fill="#c0c0c0" />
<rect x="1077" y="620" width="1" height="20" fill="#c0c0c0" />
<rect x="1085" y="620" width="1" height="20" fill="#c0c0c0" />
<rect x="1093" y="619" width="1" height="21" fill="#c0c0c0" />
<rect x="1101" y="617" width="1" height="23" fill="#c0c0c0" />
<rect x="1109" y="615" width="1" height="25" fill="#c0c0c0" />
<rect x="1117" y="614" width="1" height="26" fill="#c0c0c0" />
<rect x="1125" y="610" width="1" height="30" fill="#c0c0c0" />
<rect x="1133" y="606" width="1" height="34" fill="#c0c0c0" />
<rect x="1141" y="603" width="1" height="37" fill="#c0c0c0" />
<rect x="1149" y="602" width="1" height="38" fill="#c0c0c0" />
<rect x="1157" y="603" width="1" height="37" fill="#c0c0c0" />
<rect x="1165" y="609" width="1" height="31" fill="#c0c0c0" />
<rect x="1173" y="614" width="1" height="26" fill="#c0c0c0" />
<rect x="1181" y="619" width="1" height="21" fill="#c0c0c0" />
<rect x="1189" y="621" width="1" height="19" fill="#c0c0c0" />
<rect x="1197" y="621" width="1" height="19" fill="#c0c0c0" />
<rect x="1205" y="623" width="1" height="17" fill="#c0c0c0" />
<rect x="1213" y="624" width="1" height="16" fill="#c0c0c0" />
<rect x="1221" y="627" width="1" height="13" fill="#c0c0c0" />
<rect x="1229" y="629" width="1" height="11" fill="#c0c0c0" />
<rect x="1237" y="629" width="1" height="11" fill="#c0c0c0" />
<rect x="1245" y="630" width="1" height="10" fill="#c0c0c0" />
<rect x="1253" y="632" width="1" height="8" fill="#c0c0c0" />
<rect x="1261" y="635" width="1" height="5" fill="#c0c0c0" />
<rect x="1269" y="637" width="1" height="3" fill="#c0c0c0" />
<rect x="1277" y="638" width="1" height="2" fill="#c0c0c0" />
<rect x="1285" y="639" width="1" height="1" fill="#c0c0c0" />
<rect x="1293" y="639" width="1" height="1" fill="#c0c0c0" />
<rect x="1301" y="639" width="1" height="1" fill="#c0c0c0" />
<rect x="1309" y="639" width="1" height="1" fill="#c0c0c0" />
<rect x="1317" y="639" width="1" height="1" fill="#c0c0c0" />
<rect x="1325" y="639" width="1" height="1" fill="#c0c0c0" />
<rect x="1333" y="637" width="1" height="3" fill="#c0c0c0" />
<rect x="1341" y="637" width="1" height="3" fill="#c0c0c0" />
<rect x="1349" y="636" width="1" height="4" fill="#c0c0c0" />
<rect x="1357" y="637" width="1" height="3" fill="#c0c0c0" />
<rect x="1365" y="636" width="1" height="4" fill="#c0c0c0" />
<rect x="1373" y="636" width="1" height="4" fill="#c0c0c0" />
<rect x="1381" y="635" width="1" height="5" fill="#c0c0c0" />
<rect x="1389" y="632" width="1" height="8" fill="#c0c0c0" />
<rect x="1397" y="630" width="1" height="10" fill="#c0c0c0" />
<rect x="1405" y="629" width="1" height="11" fill="#c0c0c0" />
<rect x="1413" y="628" width="1" height="12" fill="#c0c0c0" />
<rect x="1421" y="627" width="1" height="13" fill="#c0c0c0" />
<rect x="1429" y="627" width="1" height="13" fill="#c0c0c0" />
<rect x="1437" y="627" width="1" height="13" fill="#c0c0c0" />
<path class="c" fill="#ff0000" d="M273 635h3v1h-3zM359 635h1v1h-1zM363 635h3v1h-3zM435 635h3v1h-3zM1299 635h2v1h-2zM1383 635h3v1h-3zM1389 635h1v1h-1zM543 680h3v1h-3zM729 680h1v1h-1zM1133 615h1v1h-1zM1216 615h2v1h-2zM869 625h1v1h-1zM873 625h3v1h-3zM879 625h3v1h-3zM885 625h3v1h-3zM891 625h3v1h-3zM897 625h3v1h-3zM903 625h3v1h-3zM909 625h3v1h-3zM1071 625h3v1h-3zM1247 625h1v1h-1zM267 634h3v1h-3zM369 634h3v1h-3zM429 634h3v1h-3zM801 634h3v1h-3zM1293 634h3v1h-3zM1390 634h2v1h-2zM1395 634h3v1h-3zM209 629h1v1h-1zM213 629h3v1h-3zM219 629h2v1h-2zM814 629h2v1h-2zM958 629h2v1h-2zM963 629h3v1h-3zM969 629h3v1h-3zM975 629h3v1h-3zM1049 629h1v1h-1zM1053 629h3v1h-3zM1269 629h3v1h-3zM568 691h2v1h-2zM711 691h1v1h-1zM281 637h1v1h-1zM345 637h3v1h-3zM351 637h2v1h-2zM442 637h2v1h-2zM795 637h2v1h-2zM1305 637h3v1h-3zM1311 637h3v1h-3zM1353 637h3v1h-3zM1359 637h3v1h-3zM1365 637h3v1h-3zM615 720h1v1h-1zM669 720h2v1h-2zM33 630h3v1h-3zM39 630h3v1h-3zM45 630h3v1h-3zM51 630h3v1h-3zM57 630h3v1h-3zM63 630h3v1h-3zM69 630h3v1h-3zM75 630h3v1h-3zM81 630h1v1h-1zM185 630h1v1h-1zM189 630h3v1h-3zM195 630h3v1h-3zM201 630h3v1h-3zM207 630h2v1h-2zM221 630h1v1h-1zM225 630h3v1h-3zM231 630h3v1h-3zM237 630h1v1h-1zM813 630h1v1h-1zM981 630h3v1h-3zM1042 630h2v1h-2zM1047 630h2v1h-2zM1275 630h1v1h-1zM1426 630h2v1h-2zM1431 630h3v1h-3zM1437 630h1v1h-1zM1125 617h3v1h-3zM1222 617h2v1h-2zM3 632h3v1h-3zM105 632h3v1h-3zM111 632h3v1h-3zM117 632h3v1h-3zM123 632h3v1h-3zM129 632h3v1h-3zM135 632h3v1h-3zM141 632h3v1h-3zM147 632h3v1h-3zM153 632h3v1h-3zM159 632h3v1h-3zM165 632h3v1h-3zM255 632h3v1h-3zM383 632h1v1h-1zM387 632h3v1h-3zM393 632h3v1h-3zM399 632h3v1h-3zM405 632h3v1h-3zM411 632h3v1h-3zM417 632h2v1h-2zM807 632h2v1h-2zM1017 632h3v1h-3zM1023 632h3v1h-3zM1029 632h3v1h-3zM1281 632h3v1h-3zM1407 632h3v1h-3zM1413 632h1v1h-1zM831 626h3v1h-3zM837 626h3v1h-3zM843 626h3v1h-3zM849 626h3v1h-3zM855 626h3v1h-3zM861 626h3v1h-3zM867 626h2v1h-2zM915 626h3v1h-3zM921 626h3v1h-3zM927 626h3v1h-3zM933 626h3v1h-3zM939 626h3v1h-3zM1066 626h2v1h-2zM1251 626h3v1h-3zM1149 611h1v1h-1zM1203 611h3v1h-3zM9 631h3v1h-3zM15 631h3v1h-3zM21 631h3v1h-3zM27 631h3v1h-3zM82 631h2v1h-2zM87 631h3v1h-3zM93 631h3v1h-3zM99 631h3v1h-3zM171 631h3v1h-3zM177 631h3v1h-3zM183 631h2v1h-2zM238 631h2v1h-2zM243 631h3v1h-3zM249 631h3v1h-3zM809 631h1v1h-1zM987 631h3v1h-3zM993 631h3v1h-3zM999 631h3v1h-3zM1005 631h3v1h-3zM1011 631h3v1h-3zM1035 631h3v1h-3zM1041 631h1v1h-1zM1276 631h2v1h-2zM1414 631h2v1h-2zM1419 631h3v1h-3zM1425 631h1v1h-1zM285 638h3v1h-3zM291 638h3v1h-3zM328 638h2v1h-2zM333 638h3v1h-3zM339 638h3v1h-3zM447 638h2v1h-2zM1317 638h3v1h-3zM1323 638h3v1h-3zM1341 638h3v1h-3zM1347 638h3v1h-3zM261 633h3v1h-3zM375 633h3v1h-3zM381 633h2v1h-2zM419 633h1v1h-1zM423 633h3v1h-3zM1287 633h3v1h-3zM1401 633h3v1h-3zM525 675h1v1h-1zM737 675h1v1h-1zM526 676h2v1h-2zM735 676h2v1h-2zM561 687h1v1h-1zM717 687h1v1h-1zM279 636h2v1h-2zM353 636h1v1h-1zM357 636h2v1h-2zM441 636h1v1h-1zM797 636h1v1h-1zM1301 636h1v1h-1zM1371 636h3v1h-3zM1377 636h3v1h-3zM819 628h3v1h-3zM951 628h3v1h-3zM957 628h1v1h-1zM1059 628h3v1h-3zM1263 628h3v1h-3zM1155 609h3v1h-3zM1186 609h2v1h-2zM1191 609h3v1h-3zM627 727h3v1h-3zM1077 624h3v1h-3zM1083 624h1v1h-1zM1245 624h2v1h-2zM556 685h2v1h-2zM466 648h2v1h-2zM778 648h1v1h-1zM459 644h2v1h-2zM783 644h2v1h-2zM621 724h2v1h-2zM663 724h1v1h-1zM549 682h3v1h-3zM725 682h1v1h-1zM592 706h1v1h-1zM689 706h1v1h-1zM297 639h3v1h-3zM303 639h3v1h-3zM309 639h3v1h-3zM315 639h3v1h-3zM321 639h3v1h-3zM327 639h1v1h-1zM449 639h1v1h-1zM791 639h1v1h-1zM1329 639h3v1h-3zM1335 639h3v1h-3zM1144 612h2v1h-2zM1150 610h2v1h-2zM1197 610h3v1h-3zM587 703h1v1h-1zM693 703h1v1h-1zM455 642h1v1h-1zM575 695h1v1h-1zM705 695h1v1h-1zM682 711h1v1h-1zM790 640h1v1h-1zM591 705h1v1h-1zM1109 619h1v1h-1zM1113 619h3v1h-3zM1227 619h2v1h-2zM1161 608h3v1h-3zM1167 608h2v1h-2zM1179 608h3v1h-3zM1185 608h1v1h-1zM825 627h3v1h-3zM945 627h3v1h-3zM1065 627h1v1h-1zM1257 627h3v1h-3zM496 665h2v1h-2zM753 665h1v1h-1zM1169 607h1v1h-1zM1173 607h3v1h-3zM1097 621h1v1h-1zM1101 621h2v1h-2zM1233 621h3v1h-3zM531 677h3v1h-3zM1119 618h3v1h-3zM579 697h1v1h-1zM701 697h1v1h-1zM657 726h2v1h-2zM616 721h2v1h-2zM747 669h1v1h-1zM489 661h1v1h-1zM759 661h1v1h-1zM718 686h2v1h-2zM507 670h3v1h-3zM743 671h1v1h-1zM634 729h2v1h-2zM645 729h3v1h-3zM485 659h1v1h-1zM761 659h1v1h-1zM537 678h2v1h-2zM731 678h1v1h-1zM1084 623h2v1h-2zM1089 623h2v1h-2zM1240 623h2v1h-2zM513 672h3v1h-3zM742 672h1v1h-1zM473 652h1v1h-1zM772 652h1v1h-1zM483 658h2v1h-2zM639 730h3v1h-3zM477 654h1v1h-1zM1143 613h1v1h-1zM1209 613h3v1h-3zM664 723h2v1h-2zM603 713h2v1h-2zM765 657h1v1h-1zM605 714h1v1h-1zM1091 622h1v1h-1zM1095 622h2v1h-2zM1239 622h1v1h-1zM585 701h1v1h-1zM695 701h1v1h-1zM519 674h3v1h-3zM707 693h1v1h-1zM593 707h1v1h-1zM687 707h2v1h-2zM573 694h2v1h-2zM706 694h1v1h-1zM723 683h2v1h-2zM501 667h1v1h-1zM749 667h1v1h-1zM562 688h2v1h-2zM461 645h1v1h-1zM1131 616h2v1h-2zM1221 616h1v1h-1zM471 651h2v1h-2zM773 651h1v1h-1zM777 649h1v1h-1zM1103 620h1v1h-1zM1107 620h2v1h-2zM1229 620h1v1h-1zM465 647h1v1h-1zM779 647h1v1h-1zM1137 614h3v1h-3zM1215 614h1v1h-1zM502 668h2v1h-2zM748 668h1v1h-1zM453 641h2v1h-2zM789 641h1v1h-1zM490 662h2v1h-2zM555 684h1v1h-1zM633 728h1v1h-1zM651 728h3v1h-3zM713 689h1v1h-1zM671 719h1v1h-1zM586 702h1v1h-1zM694 702h1v1h-1zM609 716h1v1h-1zM675 716h2v1h-2zM771 653h1v1h-1zM755 663h1v1h-1zM478 655h2v1h-2zM767 655h1v1h-1zM610 717h1v1h-1zM580 698h1v1h-1zM700 698h1v1h-1zM598 710h2v1h-2zM683 710h1v1h-1zM677 715h1v1h-1zM623 725h1v1h-1zM659 725h1v1h-1zM567 690h1v1h-1zM712 690h1v1h-1zM597 709h1v1h-1zM681 712h1v1h-1zM785 643h1v1h-1zM495 664h1v1h-1zM754 664h1v1h-1zM766 656h1v1h-1zM611 718h1v1h-1zM539 679h1v1h-1zM730 679h1v1h-1zM581 699h1v1h-1zM699 699h1v1h-1zM760 660h1v1h-1zM741 673h1v1h-1z"/>
<rect x="1689" y="594" width="1" height="1" fill="#000" />
<rect x="1689" y="639" width="1" height="1" fill="#000" />
<rect x="1689" y="747" width="1" height="1" fill="#000" />
</g>
<text x="1692.3" y="603" font-size="10" fill="#000" text-anchor="start" font-weight="normal" textLength="32.60" lengthAdjust="spacingAndGlyphs">1024.52</text>
<text x="1692.1" y="643" font-size="10" fill="#000" text-anchor="start" font-weight="normal" textLength="18.00" lengthAdjust="spacingAndGlyphs">0.00</text>
<text x="1691.9" y="745" font-size="10" fill="#000" text-anchor="start" font-weight="normal" textLength="36.20" lengthAdjust="spacingAndGlyphs">-2433.25</text>
<text x="1.6" y="763" font-size="10" fill="#000" text-anchor="start" font-weight="normal" textLength="31.50" lengthAdjust="spacingAndGlyphs">RSI(14)</text>
<text x="36.3" y="763" font-size="10" fill="#000" text-anchor="start" font-weight="normal" textLength="32.30" lengthAdjust="spacingAndGlyphs">60.5137</text>
<g class="c">
<line x1="0" y1="786.5" x2="1687" y2="786.5" stroke="#c0c0c0" stroke-width="1" stroke-dasharray="3 3" stroke-dashoffset="2"/>
<line x1="0" y1="837.5" x2="1687" y2="837.5" stroke="#c0c0c0" stroke-width="1" stroke-dasharray="3 3" stroke-dashoffset="2"/>
<line x1="0" y1="898.5" x2="1687" y2="898.5" stroke="#c0c0c0" stroke-width="1" stroke-dasharray="3 3" stroke-dashoffset="2"/>
<path class="c" fill="#1e90ff" d="M477 859h1v3h-1zM219 829h1v2h-1zM222 834h1v2h-1zM223 836h1v2h-1zM1055 814h1v2h-1zM295 832h1v2h-1zM1249 837h1v2h-1zM1252 841h1v2h-1zM310 817h1v2h-1zM644 841h1v2h-1zM488 860h1v3h-1zM104 834h1v3h-1zM291 840h1v2h-1zM1150 798h1v2h-1zM290 842h1v3h-1zM624 869h1v2h-1zM93 823h1v2h-1zM471 888h1v6h-1zM215 822h1v2h-1zM476 862h1v5h-1zM100 840h1v2h-1zM63 810h1v2h-1zM993 828h1v2h-1zM1059 809h1v2h-1zM555 868h1v3h-1zM70 801h1v3h-1zM1388 818h1v2h-1zM301 820h1v2h-1zM716 834h1v2h-1zM486 865h1v2h-1zM289 845h1v2h-1zM550 884h1v4h-1zM623 871h1v3h-1zM74 812h1v3h-1zM297 828h1v2h-1zM225 839h1v2h-1zM665 845h1v2h-1zM1160 822h1v3h-1zM1123 798h1v2h-1zM1163 832h1v3h-1zM263 842h1v3h-1zM1164 835h1v4h-1zM95 827h1v3h-1zM1387 820h1v2h-1zM43 814h1v3h-1zM288 847h1v3h-1zM622 874h1v2h-1zM300 822h1v2h-1zM1231 837h1v2h-1zM403 834h1v2h-1zM549 888h1v2h-1zM493 849h1v2h-1zM1383 826h1v2h-1zM296 830h1v2h-1zM469 899h1v3h-1zM435 879h1v2h-1zM553 874h1v4h-1zM1188 830h1v2h-1zM69 799h1v2h-1zM1284 838h1v2h-1zM65 806h1v2h-1zM1159 819h1v3h-1zM492 851h1v2h-1zM629 857h1v2h-1zM38 802h1v2h-1zM44 817h1v2h-1zM552 878h1v3h-1zM45 819h1v2h-1zM640 847h1v2h-1zM1278 847h1v2h-1zM64 808h1v2h-1zM1165 839h1v2h-1zM551 881h1v3h-1zM1154 806h1v2h-1zM97 832h1v3h-1zM426 863h1v2h-1zM1119 803h1v2h-1zM415 844h1v2h-1zM711 842h1v2h-1zM285 854h1v2h-1zM447 889h1v2h-1zM554 871h1v3h-1zM1246 833h1v2h-1zM107 826h1v2h-1zM269 859h1v2h-1zM1155 808h1v2h-1zM871 820h1v2h-1zM481 863h1v2h-1zM1156 810h1v2h-1zM96 830h1v2h-1zM1280 844h1v2h-1zM710 844h1v2h-1zM425 861h1v2h-1zM1182 840h1v2h-1zM474 873h1v5h-1zM489 858h1v2h-1zM292 838h1v2h-1zM626 864h1v2h-1zM106 828h1v3h-1zM68 800h1v2h-1zM417 847h1v2h-1zM76 818h1v3h-1zM557 862h1v2h-1zM227 842h1v2h-1zM1337 829h1v2h-1zM311 819h1v2h-1zM625 866h1v3h-1zM268 856h1v3h-1zM216 824h1v2h-1zM548 887h1v2h-1zM556 864h1v4h-1zM990 833h1v2h-1zM472 883h1v5h-1zM487 863h1v2h-1zM71 804h1v3h-1zM1161 825h1v4h-1zM40 807h1v2h-1zM313 822h1v2h-1zM67 802h1v2h-1zM715 836h1v2h-1zM214 820h1v2h-1zM436 881h1v2h-1zM327 831h1v2h-1zM542 877h1v2h-1zM638 850h1v2h-1zM66 804h1v2h-1zM996 823h1v2h-1zM99 837h1v3h-1zM428 867h1v2h-1zM39 804h1v3h-1zM995 825h1v2h-1zM515 867h1v2h-1zM991 831h1v2h-1zM398 824h1v2h-1zM287 850h1v2h-1zM299 824h1v2h-1zM430 871h1v2h-1zM1382 828h1v2h-1zM427 865h1v2h-1zM109 821h1v2h-1zM419 850h1v2h-1zM1385 823h1v2h-1zM1183 838h1v2h-1zM475 867h1v6h-1zM286 852h1v2h-1zM298 826h1v2h-1zM108 823h1v3h-1zM491 853h1v2h-1zM400 828h1v2h-1zM1157 812h1v3h-1zM331 826h1v2h-1zM490 855h1v3h-1zM642 844h1v2h-1zM103 837h1v2h-1zM470 894h1v5h-1zM950 830h1v2h-1zM1162 829h1v3h-1zM228 844h1v2h-1zM265 848h1v2h-1zM42 812h1v2h-1zM315 825h1v2h-1zM1235 832h1v2h-1zM102 839h1v3h-1zM1151 800h1v2h-1zM713 839h1v2h-1zM1158 815h1v4h-1zM952 833h1v2h-1zM264 845h1v3h-1zM41 809h1v3h-1zM1282 841h1v2h-1zM1187 832h1v2h-1zM218 827h1v2h-1zM294 834h1v2h-1zM543 879h1v2h-1zM62 812h1v2h-1zM429 869h1v2h-1zM451 894h1v2h-1zM73 810h1v2h-1zM1265 843h1v2h-1zM473 878h1v5h-1zM399 826h1v2h-1zM402 832h1v2h-1zM98 835h1v2h-1zM621 876h1v2h-1zM420 852h1v2h-1zM423 857h1v2h-1zM37 800h1v2h-1zM628 859h1v2h-1zM267 853h1v3h-1zM401 830h1v2h-1zM1217 834h1v2h-1zM627 861h1v3h-1zM293 836h1v2h-1zM1153 804h1v2h-1zM422 855h1v2h-1zM77 821h1v2h-1zM262 839h1v3h-1zM954 836h1v2h-1zM266 850h1v3h-1zM316 827h1v2h-1zM414 842h1v2h-1zM220 831h1v2h-1zM94 825h1v2h-1zM72 807h1v3h-1zM1152 802h1v2h-1zM1185 835h1v2h-1zM545 882h1v2h-1zM101 842h1v2h-1zM511 862h1v2h-1zM956 839h1v2h-1zM431 873h1v2h-1zM105 831h1v3h-1zM75 815h1v3h-1zM547 885h1v2h-1zM404 836h1v2h-1zM433 876h1v2h-1zM875 825h1v2h-1zM485 867h1v2h-1zM424 859h1v2h-1zM261 837h1v2h-1zM497 853h1v1h-1zM635 853h2v1h-2zM524 873h2v1h-2zM537 873h2v1h-2zM571 873h2v1h-2zM325 834h1v1h-1zM721 834h5v1h-5zM809 834h2v1h-2zM820 834h10v1h-10zM885 834h1v1h-1zM901 834h2v1h-2zM913 834h1v1h-1zM920 834h1v1h-1zM1186 834h1v1h-1zM1234 834h1v1h-1zM1308 834h3v1h-3zM1320 834h1v1h-1zM1341 834h2v1h-2zM1353 834h1v1h-1zM1361 834h1v1h-1zM165 808h4v1h-4zM177 808h6v1h-6zM1060 808h1v1h-1zM1062 808h1v1h-1zM1104 808h1v1h-1zM229 846h1v1h-1zM242 846h1v1h-1zM416 846h1v1h-1zM641 846h1v1h-1zM652 846h1v1h-1zM677 846h2v1h-2zM708 846h2v1h-2zM1267 846h1v1h-1zM1279 846h1v1h-1zM273 859h5v1h-5zM505 859h3v1h-3zM812 836h1v1h-1zM815 836h2v1h-2zM888 836h1v1h-1zM897 836h2v1h-2zM915 836h2v1h-2zM918 836h1v1h-1zM986 836h2v1h-2zM1218 836h1v1h-1zM1232 836h1v1h-1zM1248 836h1v1h-1zM1289 836h8v1h-8zM1303 836h2v1h-2zM1315 836h3v1h-3zM1355 836h2v1h-2zM1358 836h1v1h-1zM517 870h2v1h-2zM530 870h2v1h-2zM534 870h1v1h-1zM567 870h2v1h-2zM463 899h2v1h-2zM284 855h1v1h-1zM499 855h1v1h-1zM632 855h1v1h-1zM257 839h2v1h-2zM407 839h2v1h-2zM893 839h1v1h-1zM971 839h1v1h-1zM979 839h3v1h-3zM1167 839h2v1h-2zM1176 839h1v1h-1zM1221 839h4v1h-4zM1230 839h1v1h-1zM1250 839h1v1h-1zM1260 839h2v1h-2zM84 828h1v1h-1zM86 828h1v1h-1zM330 828h1v1h-1zM732 828h1v1h-1zM746 828h2v1h-2zM753 828h5v1h-5zM769 828h2v1h-2zM776 828h1v1h-1zM801 828h2v1h-2zM848 828h1v1h-1zM877 828h1v1h-1zM928 828h1v1h-1zM947 828h2v1h-2zM1004 828h1v1h-1zM1006 828h2v1h-2zM1191 828h4v1h-4zM1198 828h1v1h-1zM1329 828h1v1h-1zM1336 828h1v1h-1zM79 824h1v1h-1zM91 824h2v1h-2zM125 824h4v1h-4zM314 824h1v1h-1zM333 824h4v1h-4zM383 824h2v1h-2zM393 824h3v1h-3zM764 824h2v1h-2zM780 824h1v1h-1zM791 824h4v1h-4zM862 824h1v1h-1zM874 824h1v1h-1zM937 824h5v1h-5zM999 824h1v1h-1zM1035 824h4v1h-4zM1412 824h3v1h-3zM164 809h1v1h-1zM169 809h8v1h-8zM183 809h4v1h-4zM1063 809h1v1h-1zM1103 809h1v1h-1zM249 842h5v1h-5zM647 842h1v1h-1zM668 842h1v1h-1zM670 842h2v1h-2zM959 842h2v1h-2zM967 842h1v1h-1zM1181 842h1v1h-1zM1254 842h2v1h-2zM1264 842h1v1h-1zM57 814h5v1h-5zM158 814h1v1h-1zM193 814h2v1h-2zM1068 814h1v1h-1zM1071 814h4v1h-4zM1078 814h1v1h-1zM1097 814h2v1h-2zM813 837h2v1h-2zM889 837h2v1h-2zM896 837h1v1h-1zM917 837h1v1h-1zM973 837h2v1h-2zM984 837h2v1h-2zM1172 837h2v1h-2zM1184 837h1v1h-1zM1219 837h1v1h-1zM1285 837h4v1h-4zM1297 837h6v1h-6zM1357 837h1v1h-1zM80 825h1v1h-1zM90 825h1v1h-1zM332 825h1v1h-1zM385 825h3v1h-3zM391 825h2v1h-2zM739 825h3v1h-3zM762 825h2v1h-2zM766 825h1v1h-1zM779 825h1v1h-1zM795 825h3v1h-3zM853 825h9v1h-9zM933 825h4v1h-4zM942 825h2v1h-2zM1000 825h1v1h-1zM1012 825h13v1h-13zM1031 825h4v1h-4zM1333 825h1v1h-1zM1384 825h1v1h-1zM48 818h1v1h-1zM113 818h2v1h-2zM119 818h1v1h-1zM154 818h1v1h-1zM198 818h1v1h-1zM304 818h2v1h-2zM371 818h3v1h-3zM869 818h1v1h-1zM1051 818h2v1h-2zM1083 818h2v1h-2zM1089 818h5v1h-5zM1398 818h2v1h-2zM224 838h1v1h-1zM259 838h2v1h-2zM405 838h2v1h-2zM714 838h1v1h-1zM891 838h2v1h-2zM894 838h2v1h-2zM955 838h1v1h-1zM972 838h1v1h-1zM975 838h4v1h-4zM982 838h2v1h-2zM1169 838h3v1h-3zM1174 838h2v1h-2zM1220 838h1v1h-1zM321 832h2v1h-2zM727 832h1v1h-1zM807 832h1v1h-1zM832 832h1v1h-1zM882 832h1v1h-1zM905 832h3v1h-3zM910 832h1v1h-1zM923 832h1v1h-1zM951 832h1v1h-1zM1203 832h2v1h-2zM1207 832h2v1h-2zM1215 832h1v1h-1zM1243 832h3v1h-3zM1323 832h2v1h-2zM1339 832h1v1h-1zM1345 832h3v1h-3zM1350 832h1v1h-1zM1363 832h2v1h-2zM320 831h1v1h-1zM728 831h1v1h-1zM773 831h1v1h-1zM806 831h1v1h-1zM833 831h2v1h-2zM881 831h1v1h-1zM908 831h2v1h-2zM924 831h1v1h-1zM1202 831h1v1h-1zM1209 831h3v1h-3zM1214 831h1v1h-1zM1236 831h1v1h-1zM1239 831h4v1h-4zM1325 831h1v1h-1zM1338 831h1v1h-1zM1348 831h2v1h-2zM1365 831h4v1h-4zM233 849h2v1h-2zM239 849h1v1h-1zM418 849h1v1h-1zM639 849h1v1h-1zM657 849h3v1h-3zM662 849h1v1h-1zM684 849h3v1h-3zM699 849h4v1h-4zM1273 849h5v1h-5zM85 829h1v1h-1zM317 829h1v1h-1zM329 829h1v1h-1zM731 829h1v1h-1zM748 829h5v1h-5zM771 829h1v1h-1zM775 829h1v1h-1zM803 829h2v1h-2zM837 829h4v1h-4zM846 829h2v1h-2zM878 829h1v1h-1zM926 829h2v1h-2zM949 829h1v1h-1zM1005 829h1v1h-1zM1189 829h2v1h-2zM1199 829h2v1h-2zM1327 829h2v1h-2zM318 830h2v1h-2zM328 830h1v1h-1zM729 830h2v1h-2zM772 830h1v1h-1zM774 830h1v1h-1zM805 830h1v1h-1zM835 830h2v1h-2zM841 830h5v1h-5zM879 830h2v1h-2zM925 830h1v1h-1zM992 830h1v1h-1zM1201 830h1v1h-1zM1212 830h2v1h-2zM1237 830h2v1h-2zM1326 830h1v1h-1zM1369 830h13v1h-13zM78 823h1v1h-1zM124 823h1v1h-1zM129 823h5v1h-5zM148 823h2v1h-2zM205 823h1v1h-1zM337 823h5v1h-5zM381 823h2v1h-2zM396 823h2v1h-2zM781 823h10v1h-10zM863 823h1v1h-1zM873 823h1v1h-1zM998 823h1v1h-1zM1039 823h4v1h-4zM1409 823h3v1h-3zM1415 823h4v1h-4zM123 822h1v1h-1zM134 822h2v1h-2zM146 822h2v1h-2zM150 822h1v1h-1zM203 822h2v1h-2zM206 822h2v1h-2zM342 822h2v1h-2zM379 822h2v1h-2zM864 822h1v1h-1zM872 822h1v1h-1zM997 822h1v1h-1zM1043 822h3v1h-3zM1386 822h1v1h-1zM1407 822h2v1h-2zM1419 822h12v1h-12zM483 866h1v1h-1zM514 866h1v1h-1zM562 866h1v1h-1zM81 826h2v1h-2zM89 826h1v1h-1zM217 826h1v1h-1zM388 826h3v1h-3zM735 826h4v1h-4zM742 826h2v1h-2zM760 826h2v1h-2zM767 826h1v1h-1zM778 826h1v1h-1zM798 826h2v1h-2zM851 826h2v1h-2zM931 826h2v1h-2zM944 826h1v1h-1zM1001 826h2v1h-2zM1010 826h2v1h-2zM1025 826h6v1h-6zM1331 826h2v1h-2zM1334 826h1v1h-1zM484 867h1v1h-1zM563 867h2v1h-2zM479 861h1v1h-1zM510 861h1v1h-1zM46 819h2v1h-2zM112 819h1v1h-1zM120 819h1v1h-1zM140 819h2v1h-2zM153 819h1v1h-1zM199 819h2v1h-2zM212 819h2v1h-2zM302 819h2v1h-2zM348 819h5v1h-5zM367 819h4v1h-4zM374 819h2v1h-2zM868 819h1v1h-1zM870 819h1v1h-1zM1049 819h2v1h-2zM1085 819h4v1h-4zM1400 819h2v1h-2zM1436 819h2v1h-2zM122 821h1v1h-1zM136 821h2v1h-2zM144 821h2v1h-2zM151 821h1v1h-1zM202 821h1v1h-1zM208 821h2v1h-2zM312 821h1v1h-1zM344 821h2v1h-2zM377 821h2v1h-2zM865 821h2v1h-2zM1046 821h2v1h-2zM1404 821h3v1h-3zM1431 821h2v1h-2zM438 884h2v1h-2zM546 884h1v1h-1zM610 884h2v1h-2zM614 884h1v1h-1zM51 816h2v1h-2zM117 816h1v1h-1zM156 816h1v1h-1zM196 816h1v1h-1zM308 816h2v1h-2zM1054 816h1v1h-1zM1081 816h1v1h-1zM1095 816h1v1h-1zM440 885h2v1h-2zM612 885h2v1h-2zM544 881h1v1h-1zM603 881h3v1h-3zM617 881h1v1h-1zM159 813h1v1h-1zM192 813h1v1h-1zM1056 813h1v1h-1zM1067 813h1v1h-1zM1075 813h3v1h-3zM1099 813h1v1h-1zM516 869h1v1h-1zM532 869h2v1h-2zM566 869h1v1h-1zM1131 794h4v1h-4zM1144 794h1v1h-1zM221 833h1v1h-1zM323 833h2v1h-2zM326 833h1v1h-1zM717 833h4v1h-4zM726 833h1v1h-1zM808 833h1v1h-1zM830 833h2v1h-2zM883 833h2v1h-2zM903 833h2v1h-2zM911 833h2v1h-2zM921 833h2v1h-2zM1205 833h2v1h-2zM1216 833h1v1h-1zM1321 833h2v1h-2zM1340 833h1v1h-1zM1343 833h2v1h-2zM1351 833h2v1h-2zM1362 833h1v1h-1zM558 863h1v1h-1zM512 864h1v1h-1zM559 864h2v1h-2zM4 806h1v1h-1zM9 806h5v1h-5zM1106 806h1v1h-1zM1116 806h2v1h-2zM230 847h2v1h-2zM241 847h1v1h-1zM653 847h2v1h-2zM664 847h1v1h-1zM679 847h2v1h-2zM691 847h4v1h-4zM705 847h3v1h-3zM1268 847h1v1h-1zM811 835h1v1h-1zM817 835h3v1h-3zM886 835h2v1h-2zM899 835h2v1h-2zM914 835h1v1h-1zM919 835h1v1h-1zM953 835h1v1h-1zM988 835h2v1h-2zM1233 835h1v1h-1zM1247 835h1v1h-1zM1305 835h3v1h-3zM1311 835h4v1h-4zM1318 835h2v1h-2zM1354 835h1v1h-1zM1359 835h2v1h-2zM457 898h6v1h-6zM35 800h2v1h-2zM1122 800h1v1h-1zM83 827h1v1h-1zM87 827h2v1h-2zM733 827h2v1h-2zM744 827h2v1h-2zM758 827h2v1h-2zM768 827h1v1h-1zM777 827h1v1h-1zM800 827h1v1h-1zM849 827h2v1h-2zM876 827h1v1h-1zM929 827h2v1h-2zM945 827h2v1h-2zM994 827h1v1h-1zM1003 827h1v1h-1zM1008 827h2v1h-2zM1195 827h3v1h-3zM1330 827h1v1h-1zM1335 827h1v1h-1zM53 815h4v1h-4zM157 815h1v1h-1zM195 815h1v1h-1zM1069 815h2v1h-2zM1079 815h2v1h-2zM1096 815h1v1h-1zM521 872h3v1h-3zM526 872h2v1h-2zM536 872h1v1h-1zM570 872h1v1h-1zM432 875h1v1h-1zM540 875h1v1h-1zM575 875h4v1h-4zM110 820h2v1h-2zM121 820h1v1h-1zM138 820h2v1h-2zM142 820h2v1h-2zM152 820h1v1h-1zM201 820h1v1h-1zM210 820h2v1h-2zM346 820h2v1h-2zM353 820h14v1h-14zM376 820h1v1h-1zM867 820h1v1h-1zM1048 820h1v1h-1zM1402 820h2v1h-2zM1433 820h3v1h-3zM599 880h4v1h-4zM618 880h1v1h-1zM245 843h4v1h-4zM643 843h1v1h-1zM648 843h1v1h-1zM667 843h1v1h-1zM672 843h1v1h-1zM961 843h3v1h-3zM966 843h1v1h-1zM1253 843h1v1h-1zM1281 843h1v1h-1zM0 803h1v1h-1zM17 803h2v1h-2zM1109 803h2v1h-2zM270 860h3v1h-3zM478 860h1v1h-1zM508 860h2v1h-2zM282 856h2v1h-2zM500 856h1v1h-1zM630 856h2v1h-2zM280 857h2v1h-2zM501 857h2v1h-2zM49 817h2v1h-2zM115 817h2v1h-2zM118 817h1v1h-1zM155 817h1v1h-1zM197 817h1v1h-1zM306 817h2v1h-2zM1053 817h1v1h-1zM1082 817h1v1h-1zM1094 817h1v1h-1zM1389 817h9v1h-9zM226 841h1v1h-1zM254 841h2v1h-2zM412 841h2v1h-2zM646 841h1v1h-1zM669 841h1v1h-1zM712 841h1v1h-1zM957 841h2v1h-2zM968 841h1v1h-1zM1179 841h2v1h-2zM1256 841h2v1h-2zM1263 841h1v1h-1zM19 802h2v1h-2zM25 802h6v1h-6zM1120 802h1v1h-1zM434 878h1v1h-1zM593 878h3v1h-3zM620 878h1v1h-1zM444 887h2v1h-2zM1135 793h4v1h-4zM1142 793h2v1h-2zM244 844h1v1h-1zM649 844h2v1h-2zM666 844h1v1h-1zM673 844h2v1h-2zM964 844h2v1h-2zM519 871h2v1h-2zM528 871h2v1h-2zM535 871h1v1h-1zM569 871h1v1h-1zM5 807h4v1h-4zM1061 807h1v1h-1zM1105 807h1v1h-1zM465 900h3v1h-3zM161 811h2v1h-2zM190 811h1v1h-1zM1058 811h1v1h-1zM1065 811h1v1h-1zM1101 811h1v1h-1zM232 848h1v1h-1zM240 848h1v1h-1zM655 848h2v1h-2zM663 848h1v1h-1zM681 848h3v1h-3zM687 848h4v1h-4zM695 848h4v1h-4zM703 848h2v1h-2zM1269 848h4v1h-4zM243 845h1v1h-1zM651 845h1v1h-1zM675 845h2v1h-2zM1266 845h1v1h-1zM596 879h3v1h-3zM619 879h1v1h-1zM541 876h1v1h-1zM579 876h12v1h-12zM565 868h1v1h-1zM235 850h2v1h-2zM238 850h1v1h-1zM494 850h1v1h-1zM660 850h2v1h-2zM256 840h1v1h-1zM409 840h3v1h-3zM645 840h1v1h-1zM969 840h2v1h-2zM1166 840h1v1h-1zM1177 840h2v1h-2zM1225 840h5v1h-5zM1251 840h1v1h-1zM1258 840h2v1h-2zM1262 840h1v1h-1zM1283 840h1v1h-1zM482 865h1v1h-1zM513 865h1v1h-1zM561 865h1v1h-1zM442 886h2v1h-2zM163 810h1v1h-1zM187 810h3v1h-3zM1064 810h1v1h-1zM1102 810h1v1h-1zM1125 796h2v1h-2zM1147 796h2v1h-2zM496 852h1v1h-1zM637 852h1v1h-1zM449 892h1v1h-1zM21 801h4v1h-4zM31 801h4v1h-4zM1121 801h1v1h-1zM2 805h2v1h-2zM14 805h2v1h-2zM1107 805h1v1h-1zM1113 805h3v1h-3zM1118 805h1v1h-1zM278 858h2v1h-2zM503 858h2v1h-2zM421 854h1v1h-1zM498 854h1v1h-1zM633 854h2v1h-2zM1127 795h4v1h-4zM1145 795h2v1h-2zM539 874h1v1h-1zM573 874h2v1h-2zM437 883h1v1h-1zM608 883h2v1h-2zM615 883h1v1h-1zM448 891h1v1h-1zM591 877h2v1h-2zM1 804h1v1h-1zM16 804h1v1h-1zM1108 804h1v1h-1zM1111 804h2v1h-2zM453 897h4v1h-4zM446 888h1v1h-1zM237 851h1v1h-1zM495 851h1v1h-1zM452 896h1v1h-1zM1124 797h1v1h-1zM1149 797h1v1h-1zM1139 792h3v1h-3zM160 812h1v1h-1zM191 812h1v1h-1zM1057 812h1v1h-1zM1066 812h1v1h-1zM1100 812h1v1h-1zM450 893h1v1h-1zM606 882h2v1h-2zM616 882h1v1h-1zM480 862h1v1h-1zM468 901h1v1h-1z"/>
<rect x="1689" y="752" width="1" height="1" fill="#000" />
<rect x="1689" y="923" width="1" height="1" fill="#000" />
</g>
<text x="1692.2" y="761" font-size="10" fill="#000" text-anchor="start" font-weight="normal" textLength="14.60" lengthAdjust="spacingAndGlyphs">100</text>
<text x="1692.2" y="790" font-size="10" fill="#000" text-anchor="start" font-weight="normal" textLength="9.60" lengthAdjust="spacingAndGlyphs">80</text>
<text x="1692.2" y="841" font-size="10" fill="#000" text-anchor="start" font-weight="normal" textLength="9.60" lengthAdjust="spacingAndGlyphs">50</text>
<text x="1692.2" y="902" font-size="10" fill="#000" text-anchor="start" font-weight="normal" textLength="9.50" lengthAdjust="spacingAndGlyphs">15</text>
<text x="1692.2" y="921" font-size="10" fill="#000" text-anchor="start" font-weight="normal" textLength="4.90" lengthAdjust="spacingAndGlyphs">0</text>
<g class="c">
<rect x="-3" y="925" width="1" height="3" fill="#000" />
<rect x="61" y="925" width="1" height="3" fill="#000" />
<rect x="125" y="925" width="1" height="3" fill="#000" />
<rect x="189" y="925" width="1" height="3" fill="#000" />
<rect x="253" y="925" width="1" height="3" fill="#000" />
<rect x="317" y="925" width="1" height="3" fill="#000" />
<rect x="381" y="925" width="1" height="3" fill="#000" />
<rect x="445" y="925" width="1" height="3" fill="#000" />
<rect x="509" y="925" width="1" height="3" fill="#000" />
<rect x="573" y="925" width="1" height="3" fill="#000" />
<rect x="637" y="925" width="1" height="3" fill="#000" />
<rect x="701" y="925" width="1" height="3" fill="#000" />
<rect x="765" y="925" width="1" height="3" fill="#000" />
<rect x="829" y="925" width="1" height="3" fill="#000" />
<rect x="893" y="925" width="1" height="3" fill="#000" />
<rect x="957" y="925" width="1" height="3" fill="#000" />
<rect x="1021" y="925" width="1" height="3" fill="#000" />
<rect x="1085" y="925" width="1" height="3" fill="#000" />
<rect x="1149" y="925" width="1" height="3" fill="#000" />
<rect x="1213" y="925" width="1" height="3" fill="#000" />
<rect x="1277" y="925" width="1" height="3" fill="#000" />
<rect x="1341" y="925" width="1" height="3" fill="#000" />
<rect x="1405" y="925" width="1" height="3" fill="#000" />
</g>
<text x="-3.6" y="937" font-size="10" fill="#000" text-anchor="start" font-weight="normal" textLength="50.64" lengthAdjust="spacingAndGlyphs">23 Dec 2019</text>
<text x="60.4" y="937" font-size="10" fill="#000" text-anchor="start" font-weight="normal" textLength="44.19" lengthAdjust="spacingAndGlyphs">1 Jan 2020</text>
<text x="124.4" y="937" font-size="10" fill="#000" text-anchor="start" font-weight="normal" textLength="49.16" lengthAdjust="spacingAndGlyphs">10 Jan 2020</text>
<text x="188.4" y="937" font-size="10" fill="#000" text-anchor="start" font-weight="normal" textLength="49.16" lengthAdjust="spacingAndGlyphs">20 Jan 2020</text>
<text x="252.4" y="937" font-size="10" fill="#000" text-anchor="start" font-weight="normal" textLength="49.16" lengthAdjust="spacingAndGlyphs">29 Jan 2020</text>
<text x="316.4" y="937" font-size="10" fill="#000" text-anchor="start" font-weight="normal" textLength="45.18" lengthAdjust="spacingAndGlyphs">7 Feb 2020</text>
<text x="380.4" y="937" font-size="10" fill="#000" text-anchor="start" font-weight="normal" textLength="50.15" lengthAdjust="spacingAndGlyphs">17 Feb 2020</text>
<text x="444.4" y="937" font-size="10" fill="#000" text-anchor="start" font-weight="normal" textLength="50.15" lengthAdjust="spacingAndGlyphs">26 Feb 2020</text>
<text x="508.4" y="937" font-size="10" fill="#000" text-anchor="start" font-weight="normal" textLength="45.17" lengthAdjust="spacingAndGlyphs">6 Mar 2020</text>
<text x="572.4" y="937" font-size="10" fill="#000" text-anchor="start" font-weight="normal" textLength="50.14" lengthAdjust="spacingAndGlyphs">16 Mar 2020</text>
<text x="636.4" y="937" font-size="10" fill="#000" text-anchor="start" font-weight="normal" textLength="50.14" lengthAdjust="spacingAndGlyphs">25 Mar 2020</text>
<text x="700.4" y="937" font-size="10" fill="#000" text-anchor="start" font-weight="normal" textLength="43.20" lengthAdjust="spacingAndGlyphs">3 Apr 2020</text>
<text x="764.4" y="937" font-size="10" fill="#000" text-anchor="start" font-weight="normal" textLength="48.17" lengthAdjust="spacingAndGlyphs">14 Apr 2020</text>
<text x="828.4" y="937" font-size="10" fill="#000" text-anchor="start" font-weight="normal" textLength="48.17" lengthAdjust="spacingAndGlyphs">23 Apr 2020</text>
<text x="892.4" y="937" font-size="10" fill="#000" text-anchor="start" font-weight="normal" textLength="46.67" lengthAdjust="spacingAndGlyphs">3 May 2020</text>
<text x="956.4" y="937" font-size="10" fill="#000" text-anchor="start" font-weight="normal" textLength="51.63" lengthAdjust="spacingAndGlyphs">12 May 2020</text>
<text x="1020.4" y="937" font-size="10" fill="#000" text-anchor="start" font-weight="normal" textLength="51.63" lengthAdjust="spacingAndGlyphs">21 May 2020</text>
<text x="1084.4" y="937" font-size="10" fill="#000" text-anchor="start" font-weight="normal" textLength="51.63" lengthAdjust="spacingAndGlyphs">31 May 2020</text>
<text x="1148.4" y="937" font-size="10" fill="#000" text-anchor="start" font-weight="normal" textLength="44.19" lengthAdjust="spacingAndGlyphs">9 Jun 2020</text>
<text x="1212.4" y="937" font-size="10" fill="#000" text-anchor="start" font-weight="normal" textLength="49.16" lengthAdjust="spacingAndGlyphs">18 Jun 2020</text>
<text x="1276.4" y="937" font-size="10" fill="#000" text-anchor="start" font-weight="normal" textLength="49.16" lengthAdjust="spacingAndGlyphs">28 Jun 2020</text>
<text x="1340.4" y="937" font-size="10" fill="#000" text-anchor="start" font-weight="normal" textLength="41.21" lengthAdjust="spacingAndGlyphs">7 Jul 2020</text>
<text x="1404.4" y="937" font-size="10" fill="#000" text-anchor="start" font-weight="normal" textLength="46.18" lengthAdjust="spacingAndGlyphs">16 Jul 2020</text>
<g class="c">
<rect x="0" y="0" width="1735" height="18" fill="#f0f0f0" />
<rect x="0" y="18" width="1735" height="1" fill="#f4f4f4" />
<rect x="0" y="19" width="1734" height="1" fill="#a6a6a6" />
<rect x="0" y="20" width="1734" height="1" fill="#696969" />
<rect x="1734" y="19" width="1" height="2" fill="#e0e0e0" />
</g>
<g><rect x="-2" y="-2" width="13.2" height="15.1" rx="0.8" fill="#fff" stroke="#2e6db8" stroke-width="1.3"/><rect x="-2" y="-2" width="12.4" height="14.3" fill="none" stroke="#a8c4ec" stroke-width="0.6" opacity="0.7"/>
<circle cx="1.5" cy="2.4" r="0.72" fill="#f01818"/><rect x="2.8" y="2.05" width="7.4" height="0.7" fill="#b4c8f4"/>
<circle cx="1.5" cy="4.5" r="0.72" fill="#282828"/><rect x="2.8" y="4.15" width="7.4" height="0.7" fill="#b4c8f4"/>
<circle cx="1.5" cy="6.5" r="0.72" fill="#282828"/><rect x="2.8" y="6.15" width="7.4" height="0.7" fill="#b4c8f4"/>
<circle cx="1.5" cy="8.5" r="0.72" fill="#f01818"/><rect x="2.8" y="8.15" width="7.4" height="0.7" fill="#b4c8f4"/>
</g>
<g><rect x="24.4" y="-2" width="12.4" height="14.4" fill="#f8f4ec" stroke="#b4aca0" stroke-width="0.8"/><path d="M26.8 1.2 v4.6 M26.4 3 h2 M34.2 0.8 v3 M34.6 2 h-2.2" stroke="#585860" stroke-width="0.8" fill="none"/><circle cx="32.5" cy="8.2" r="5" fill="#dcecfa" fill-opacity="0.9" stroke="#6e9cdc" stroke-width="1.2"/><rect x="30.4" y="4.8" width="3.4" height="5.8" rx="0.6" fill="#8ea2b8" opacity="0.75"/><line x1="36.6" y1="12.2" x2="40.6" y2="15.4" stroke="#c8981c" stroke-width="2.7" stroke-linecap="butt"/><line x1="36.9" y1="11.8" x2="41" y2="15" stroke="#ecd070" stroke-width="0.7"/></g>
<rect class="c" x="49" y="0" width="1" height="17" fill="#a0a0a0"/>
<g><path d="M59.5 -2 h7.6 l3.6 3.4 v11.2 h-11.2 z" fill="#fcfcfc" stroke="#787878" stroke-width="0.9"/><path d="M67.1 -2 v3.4 h3.6" fill="#e4e4e4" stroke="#787878" stroke-width="0.7"/><rect x="61.3" y="1.2" width="3" height="1.5" fill="#707070"/><path d="M61.3 5.5 h8 M61.3 7.5 h5 M61.3 9.6 h3" stroke="#808080" stroke-width="0.9"/><path d="M67.05 5.4 h4.1 v3.65 h3.65 v4.1 h-3.65 v3.65 h-4.1 v-3.65 h-3.65 v-4.1 h3.65 z" fill="#20c820" stroke="#0c7c0c" stroke-width="0.9"/><path d="M68.0 6.4 h2.2 M68.0 6.4 v3.6 h-3.6 v2" fill="none" stroke="#90f890" stroke-width="0.9" opacity="0.85"/></g>
<text x="77.6" y="10.1" font-size="12.1" fill="#000" text-anchor="start" style="font-family:'Liberation Sans','Noto Sans CJK SC',sans-serif">新订单</text>
<defs><linearGradient id="ggold" x1="0" y1="0" x2="1" y2="1"><stop offset="0" stop-color="#d8a018"/><stop offset="0.45" stop-color="#f8de58"/><stop offset="1" stop-color="#d09a14"/></linearGradient><linearGradient id="gcloud" x1="0" y1="0" x2="0" y2="1"><stop offset="0" stop-color="#fafcff"/><stop offset="1" stop-color="#b4c4dc"/></linearGradient><linearGradient id="ghat" x1="0" y1="0" x2="0" y2="1"><stop offset="0" stop-color="#78c0f0"/><stop offset="1" stop-color="#3c90d8"/></linearGradient></defs>
<g><path d="M131.6 -1 L141.9 7.9 L134.4 14.9 L126 9.5 z" fill="url(#ggold)" stroke="#b07c0c" stroke-width="0.8"/><path d="M126.2 9.8 L134.3 15 L141.8 8.3" fill="none" stroke="#8a5c08" stroke-width="1.5"/><path d="M127.2 9.4 L134.2 13.6 L140.6 8" fill="none" stroke="#f4e090" stroke-width="0.7" opacity="0.8"/></g>
<g><rect x="156.3" y="-2" width="10.8" height="9.6" fill="#1a88f4" stroke="#0e62c8" stroke-width="0.8"/><rect x="156.8" y="-2" width="2.8" height="9" fill="#5cb4ff"/><rect x="161" y="2.6" width="5" height="1.2" fill="#e4f2ff"/><rect x="161" y="4.6" width="5" height="1" fill="#9cd0ff"/><path d="M157.4 14.6 a3.4 3.1 0 0 1 -0.3 -6.1 a3.6 3.4 0 0 1 6.6 -1.5 a3.3 3 0 0 1 4.3 2.3 a2.7 2.7 0 0 1 -0.7 5.3 z" fill="url(#gcloud)" stroke="#5878b0" stroke-width="0.9"/></g>
<defs><linearGradient id="gsig" gradientUnits="userSpaceOnUse" x1="182" y1="0" x2="198" y2="0"><stop offset="0" stop-color="#3a68d8"/><stop offset="0.42" stop-color="#b4c6f2"/><stop offset="0.58" stop-color="#b4dcb8"/><stop offset="1" stop-color="#3ea050"/></linearGradient></defs>
<g fill="none"><path d="M190.3 6.3 L197.6 9.2 A7.9 7.9 0 0 1 190.3 14.3 z" fill="#9cd49c" stroke="none" opacity="0.7"/><circle cx="190.1" cy="6.3" r="4.4" stroke="url(#gsig)" stroke-width="1.3"/><circle cx="190.1" cy="6.3" r="7.3" stroke="url(#gsig)" stroke-width="1.3" opacity="0.85"/><circle cx="190.1" cy="6.2" r="1.7" fill="#2c58d0" stroke="none"/><line x1="190.4" y1="7.4" x2="190.4" y2="14.6" stroke="#28a030" stroke-width="1.5"/></g>
<g><path d="M209.6 6.6 L224 5.2 L217.2 14.9 z" fill="#f8e050" stroke="#d0a818" stroke-width="0.8"/><ellipse cx="216.9" cy="3.7" rx="7.7" ry="2.5" fill="url(#ghat)" stroke="#3080c0" stroke-width="0.7"/><path d="M213.6 3.4 q0.8 -3 1.4 -5.4 h3.8 q0.6 2.4 1.4 5.4 q-3.3 1.2 -6.6 0 z" fill="url(#ghat)" stroke="#3080c0" stroke-width="0.6"/><circle cx="221.5" cy="10.5" r="4.1" fill="#e42414" stroke="#b01808" stroke-width="0.6"/><rect x="220.05" y="9.05" width="2.9" height="2.9" fill="#fff"/></g>
<text x="229.9" y="10.1" font-size="12" fill="#000" text-anchor="start" style="font-family:'Liberation Sans','Noto Sans CJK SC',sans-serif">自动交易</text>
<rect class="c" x="285" y="0" width="1" height="19" fill="#a0a0a0"/>
<rect class="c" x="286" y="0" width="1" height="19" fill="#fff"/>
<g class="c">
<rect x="289" y="1" width="3" height="1" fill="#a8a8a8" />
<rect x="289" y="3" width="3" height="1" fill="#a8a8a8" />
<rect x="289" y="5" width="3" height="1" fill="#a8a8a8" />
<rect x="289" y="7" width="3" height="1" fill="#a8a8a8" />
<rect x="289" y="9" width="3" height="1" fill="#a8a8a8" />
<rect x="289" y="11" width="3" height="1" fill="#a8a8a8" />
<rect x="289" y="13" width="3" height="1" fill="#a8a8a8" />
<rect x="289" y="15" width="3" height="1" fill="#a8a8a8" />
</g>
<g stroke="#505050" stroke-width="1.1" fill="#505050"><line x1="303.4" y1="1.5" x2="303.4" y2="14.8"/><line x1="301.0" y1="12.7" x2="314.0" y2="12.7"/><polygon points="303.4,0.6 301.79999999999995,3.2 305.0,3.2" stroke="none"/><polygon points="315.0,12.7 312.4,11.1 312.4,14.3" stroke="none"/></g>
<path d="M309.7 3.2 v7 M309.7 3.4 h2.2 M309.7 9.6 h-2.6" stroke="#18a018" stroke-width="1.2" fill="none"/>
<rect class="c" x="323" y="0" width="1" height="17" fill="#a0a0a0"/>
<rect class="c" x="324" y="0" width="24" height="17" fill="#f8f8f8"/>
<g stroke="#505050" stroke-width="1.1" fill="#505050"><line x1="331.4" y1="1.5" x2="331.4" y2="14.8"/><line x1="329.0" y1="12.7" x2="342.0" y2="12.7"/><polygon points="331.4,0.6 329.79999999999995,3.2 333.0,3.2" stroke="none"/><polygon points="343.0,12.7 340.4,11.1 340.4,14.3" stroke="none"/></g>
<g><line x1="337.4" y1="0" x2="337.4" y2="10.6" stroke="#108010" stroke-width="1.1"/><rect x="335.3" y="1.4" width="4.3" height="7" fill="#30d030" stroke="#109010" stroke-width="0.8"/></g>
<g stroke="#505050" stroke-width="1.1" fill="#505050"><line x1="359.4" y1="1.5" x2="359.4" y2="14.8"/><line x1="357.0" y1="12.7" x2="370.0" y2="12.7"/><polygon points="359.4,0.6 357.79999999999995,3.2 361.0,3.2" stroke="none"/><polygon points="371.0,12.7 368.4,11.1 368.4,14.3" stroke="none"/></g>
<path d="M358 9.6 C360.6 8.4 362 4.1 364.3 4.1 C366.2 4.1 367.6 7.4 369.7 8.5" stroke="#28a028" stroke-width="1.2" fill="none"/>
<rect class="c" x="380" y="0" width="1" height="17" fill="#a0a0a0"/>
<g><line x1="398.6" y1="8.9" x2="404.0" y2="13.700000000000001" stroke="#b47c10" stroke-width="3.4"/><line x1="398.6" y1="8.9" x2="403.7" y2="13.450000000000001" stroke="#f0d428" stroke-width="2"/><circle cx="395.0" cy="4.9" r="5.5" fill="#d6eefc" stroke="#3a7cc8" stroke-width="1.2"/><ellipse cx="394.4" cy="2.3000000000000003" rx="3.4" ry="1.9" fill="#fff" opacity="0.7"/><line x1="391.9" y1="4.9" x2="398.1" y2="4.9" stroke="#3a84b0" stroke-width="1.9"/><line x1="395.0" y1="1.8000000000000003" x2="395.0" y2="8.0" stroke="#3a84b0" stroke-width="1.9"/></g>
<g><line x1="426.40000000000003" y1="8.9" x2="431.8" y2="13.700000000000001" stroke="#b47c10" stroke-width="3.4"/><line x1="426.40000000000003" y1="8.9" x2="431.5" y2="13.450000000000001" stroke="#f0d428" stroke-width="2"/><circle cx="422.8" cy="4.9" r="5.5" fill="#d6eefc" stroke="#3a7cc8" stroke-width="1.2"/><ellipse cx="422.2" cy="2.3000000000000003" rx="3.4" ry="1.9" fill="#fff" opacity="0.7"/><line x1="419.7" y1="4.9" x2="425.90000000000003" y2="4.9" stroke="#3a84b0" stroke-width="1.9"/></g>
<g>
<rect x="445.1" y="-0.6" width="7.7" height="7.5" fill="#3aa020"/><rect x="445.1" y="-0.6" width="7.7" height="1.8" fill="#2a8a14"/><path d="M446.40000000000003 5.4 v-3.2 q0 -0.8 0.8 -0.8 h3.5 q0.8 0 0.8 0.8 v3.2 h-1 v-1 h-3.1 v1 z" fill="#fff"/><rect x="447.5" y="2.4" width="3" height="1" fill="#b8e4a0"/><rect x="446.1" y="0.0" width="0.9" height="0.8" fill="#e8f0ff" opacity="0.8"/>
<rect x="453.2" y="-0.6" width="7.7" height="7.5" fill="#2860d8"/><rect x="453.2" y="-0.6" width="7.7" height="1.8" fill="#1840b0"/><path d="M454.5 5.4 v-3.2 q0 -0.8 0.8 -0.8 h3.5 q0.8 0 0.8 0.8 v3.2 h-1 v-1 h-3.1 v1 z" fill="#fff"/><rect x="455.59999999999997" y="2.4" width="3" height="1" fill="#b8ccf8"/><rect x="454.2" y="0.0" width="0.9" height="0.8" fill="#e8f0ff" opacity="0.8"/>
<rect x="445.1" y="7.3" width="7.7" height="7.5" fill="#2860d8"/><rect x="445.1" y="7.3" width="7.7" height="1.8" fill="#1840b0"/><path d="M446.40000000000003 13.3 v-3.2 q0 -0.8 0.8 -0.8 h3.5 q0.8 0 0.8 0.8 v3.2 h-1 v-1 h-3.1 v1 z" fill="#fff"/><rect x="447.5" y="10.3" width="3" height="1" fill="#b8ccf8"/><rect x="446.1" y="7.8999999999999995" width="0.9" height="0.8" fill="#e8f0ff" opacity="0.8"/>
<rect x="453.2" y="7.3" width="7.7" height="7.5" fill="#3aa020"/><rect x="453.2" y="7.3" width="7.7" height="1.8" fill="#2a8a14"/><path d="M454.5 13.3 v-3.2 q0 -0.8 0.8 -0.8 h3.5 q0.8 0 0.8 0.8 v3.2 h-1 v-1 h-3.1 v1 z" fill="#fff"/><rect x="455.59999999999997" y="10.3" width="3" height="1" fill="#b8e4a0"/><rect x="454.2" y="7.8999999999999995" width="0.9" height="0.8" fill="#e8f0ff" opacity="0.8"/>
</g>
<rect class="c" x="470" y="0" width="1" height="17" fill="#a0a0a0"/>
<rect class="c" x="475" y="0" width="25" height="17" fill="#f8f8f8"/>
<g stroke="#505050" stroke-width="1.1" fill="#505050"><line x1="483.5" y1="1.5" x2="483.5" y2="14.8"/><line x1="481.1" y1="12.7" x2="494.1" y2="12.7"/><polygon points="483.5,0.6 481.9,3.2 485.1,3.2" stroke="none"/><polygon points="495.1,12.7 492.5,11.1 492.5,14.3" stroke="none"/></g>
<polygon points="488,3 488,9.6 492.2,6.3" fill="#30c030" stroke="#189018" stroke-width="0.8"/>
<rect class="c" x="503" y="0" width="1" height="17" fill="#a0a0a0"/>
<rect class="c" x="504" y="0" width="24" height="17" fill="#f8f8f8"/>
<g stroke="#505050" stroke-width="1.1" fill="#505050"><line x1="511.5" y1="1.5" x2="511.5" y2="14.8"/><line x1="509.1" y1="12.7" x2="522.1" y2="12.7"/><polygon points="511.5,0.6 509.9,3.2 513.1,3.2" stroke="none"/><polygon points="523.1,12.7 520.5,11.1 520.5,14.3" stroke="none"/></g>
<line x1="517.4" y1="1" x2="517.4" y2="10.6" stroke="#2878b8" stroke-width="1.2"/><path d="M523 6.3 h-4.4 M520.6 4.4 l-2 1.9 l2 1.9" stroke="#d84010" stroke-width="1.1" fill="none"/>
<rect class="c" x="532" y="0" width="1" height="17" fill="#a0a0a0"/>
<g><path d="M542.6 -2 h7.6 l3.6 3.4 v11.2 h-11.2 z" fill="#fcfcfc" stroke="#787878" stroke-width="0.9"/><path d="M550.2 -2 v3.4 h3.6" fill="#e4e4e4" stroke="#787878" stroke-width="0.7"/><rect x="544.4" y="1.2" width="3" height="1.5" fill="#707070"/><path d="M544.4 5.5 h8 M544.4 7.5 h5 M544.4 9.6 h3" stroke="#808080" stroke-width="0.9"/><path d="M550.15 5.4 h4.1 v3.65 h3.65 v4.1 h-3.65 v3.65 h-4.1 v-3.65 h-3.65 v-4.1 h3.65 z" fill="#20c820" stroke="#0c7c0c" stroke-width="0.9"/><path d="M551.1 6.4 h2.2 M551.1 6.4 v3.6 h-3.6 v2" fill="none" stroke="#90f890" stroke-width="0.9" opacity="0.85"/></g>
<polygon points="563.8,6 569.4,6 566.5999999999999,9.2" fill="#000"/>
<defs><linearGradient id="gclk" x1="0" y1="0" x2="0" y2="1"><stop offset="0" stop-color="#3a98f0"/><stop offset="0.5" stop-color="#1470d8"/><stop offset="1" stop-color="#0a48a8"/></linearGradient></defs>
<g><circle cx="587.9" cy="6.6" r="7.8" fill="url(#gclk)"/><circle cx="587.9" cy="6.6" r="5.5" fill="#f0f2f6"/><circle cx="587.9" cy="6.6" r="5.5" fill="none" stroke="#0c4ca8" stroke-width="0.5" opacity="0.6"/>
<circle cx="587.90" cy="2.30" r="0.35" fill="#8890a0"/>
<circle cx="590.05" cy="2.88" r="0.35" fill="#8890a0"/>
<circle cx="591.62" cy="4.45" r="0.35" fill="#8890a0"/>
<circle cx="592.20" cy="6.60" r="0.35" fill="#8890a0"/>
<circle cx="591.62" cy="8.75" r="0.35" fill="#8890a0"/>
<circle cx="590.05" cy="10.32" r="0.35" fill="#8890a0"/>
<circle cx="587.90" cy="10.90" r="0.35" fill="#8890a0"/>
<circle cx="585.75" cy="10.32" r="0.35" fill="#8890a0"/>
<circle cx="584.18" cy="8.75" r="0.35" fill="#8890a0"/>
<circle cx="583.60" cy="6.60" r="0.35" fill="#8890a0"/>
<circle cx="584.18" cy="4.45" r="0.35" fill="#8890a0"/>
<circle cx="585.75" cy="2.88" r="0.35" fill="#8890a0"/>
<path d="M587.7 3.4 v3.4 h2.9" stroke="#101010" stroke-width="1.1" fill="none"/></g>
<polygon points="602.6,6 608.2,6 605.4,9.2" fill="#000"/>
<g><rect x="619.5" y="-1.5" width="15.2" height="14.8" fill="#fff" stroke="#2a6cc8" stroke-width="1.1"/><rect x="620" y="-1" width="14.2" height="3.3" fill="#3a7cdc"/><rect x="620.6" y="1.1" width="13" height="0.7" fill="#a8c8f4"/><rect x="620" y="7.9" width="14.2" height="0.8" fill="#2a6cc8"/><rect x="620" y="12.5" width="14.2" height="0.9" fill="#2a6cc8"/><path d="M621.2 6.4 l1.6 0 l1.8 -1.6 l1.6 -0.1 l1.6 1 l1.8 -0.2 l1.6 -1.2 l1.8 0" stroke="#a81808" stroke-width="1.2" fill="none"/><path d="M621.8 11.6 l1.8 0 l1.6 -1 l1.6 0.8 l1.6 -0.8 l1.6 -1.4 l1.4 1 l1.2 1.6" stroke="#108018" stroke-width="1.2" fill="none"/></g>
<polygon points="641.7,6 647.3000000000001,6 644.5,9.2" fill="#000"/>
<rect class="c" x="653" y="0" width="1" height="19" fill="#a0a0a0"/>
<rect class="c" x="654" y="0" width="1" height="19" fill="#fff"/>
<g class="c">
<rect x="657" y="1" width="3" height="1" fill="#a8a8a8" />
<rect x="657" y="3" width="3" height="1" fill="#a8a8a8" />
<rect x="657" y="5" width="3" height="1" fill="#a8a8a8" />
<rect x="657" y="7" width="3" height="1" fill="#a8a8a8" />
<rect x="657" y="9" width="3" height="1" fill="#a8a8a8" />
<rect x="657" y="11" width="3" height="1" fill="#a8a8a8" />
<rect x="657" y="13" width="3" height="1" fill="#a8a8a8" />
<rect x="657" y="15" width="3" height="1" fill="#a8a8a8" />
</g>
<rect class="c" x="663" y="0" width="1" height="17" fill="#a0a0a0"/>
<rect class="c" x="664" y="0" width="24" height="17" fill="#f8f8f8"/>
<path d="M671.3 -2.6 v13.3 l2.5 -2.3 l2.1 5.4 l1.9 -0.8 l-2.1 -5.3 h3.2 z" fill="#4c4c4c"/>
<path d="M695.8 7.4 h6.4 M704.6 7.4 h6.4 M703.4 0 v6.2 M703.4 8.6 v6.4" stroke="#505050" stroke-width="1" fill="none" class="c"/>
<rect class="c" x="720" y="0" width="1" height="17" fill="#a0a0a0"/>
<line x1="737.5" y1="1.2" x2="737.5" y2="13.6" stroke="#505050" stroke-width="1.3"/>
<line x1="760" y1="7.4" x2="772" y2="7.4" stroke="#505050" stroke-width="1.3"/>
<line x1="787.8" y1="13.8" x2="799.8" y2="1.8" stroke="#505050" stroke-width="1.2"/>
<g stroke="#484848" stroke-width="1.05" fill="none"><path d="M814 9.4 L826.8 -0.2 M816.4 13.6 L828.8 4.2"/><path d="M816.6 12.2 l2 -6.6 M819.4 10.4 l2.2 -7 M822.4 8.2 l2 -6.6 M825.2 6 l1.8 -6" stroke-width="0.95"/></g>
<path class="c" d="M825 11.1 h4 v1 h-2.8 v0.9 h2.4 v0.9 h-2.4 v0.8 h2.9 v1 h-4.1 z" fill="#303030"/>
<g class="c">
<rect x="843" y="0" width="1" height="1" fill="#505050" />
<rect x="845" y="0" width="1" height="1" fill="#505050" />
<rect x="847" y="0" width="1" height="1" fill="#505050" />
<rect x="849" y="0" width="1" height="1" fill="#505050" />
<rect x="851" y="0" width="1" height="1" fill="#505050" />
<rect x="853" y="0" width="1" height="1" fill="#505050" />
<rect x="855" y="0" width="1" height="1" fill="#505050" />
<rect x="843" y="3" width="1" height="1" fill="#505050" />
<rect x="845" y="3" width="1" height="1" fill="#505050" />
<rect x="847" y="3" width="1" height="1" fill="#505050" />
<rect x="849" y="3" width="1" height="1" fill="#505050" />
<rect x="851" y="3" width="1" height="1" fill="#505050" />
<rect x="853" y="3" width="1" height="1" fill="#505050" />
<rect x="855" y="3" width="1" height="1" fill="#505050" />
<rect x="843" y="7" width="1" height="1" fill="#505050" />
<rect x="845" y="7" width="1" height="1" fill="#505050" />
<rect x="847" y="7" width="1" height="1" fill="#505050" />
<rect x="849" y="7" width="1" height="1" fill="#505050" />
<rect x="851" y="7" width="1" height="1" fill="#505050" />
<rect x="853" y="7" width="1" height="1" fill="#505050" />
<rect x="855" y="7" width="1" height="1" fill="#505050" />
<rect x="843" y="11" width="1" height="1" fill="#505050" />
<rect x="845" y="11" width="1" height="1" fill="#505050" />
<rect x="847" y="11" width="1" height="1" fill="#505050" />
<rect x="849" y="11" width="1" height="1" fill="#505050" />
<rect x="851" y="11" width="1" height="1" fill="#505050" />
</g>
<path class="c" d="M852.9 11.1 h4 v1 h-2.8 v1 h2.4 v0.9 h-2.4 v1.7 h-1.2 z" fill="#303030"/>
<text x="873.7" y="11.9" font-size="12.2" fill="#585858" text-anchor="start" font-weight="normal" textLength="8.2" lengthAdjust="spacingAndGlyphs" stroke="#585858" stroke-width="0.35">A</text>
<g class="c">
<rect x="900" y="1" width="1" height="1" fill="#505050" />
<rect x="900" y="13" width="1" height="1" fill="#505050" />
<rect x="902" y="1" width="1" height="1" fill="#505050" />
<rect x="902" y="13" width="1" height="1" fill="#505050" />
<rect x="904" y="1" width="1" height="1" fill="#505050" />
<rect x="904" y="13" width="1" height="1" fill="#505050" />
<rect x="906" y="1" width="1" height="1" fill="#505050" />
<rect x="906" y="13" width="1" height="1" fill="#505050" />
<rect x="908" y="1" width="1" height="1" fill="#505050" />
<rect x="908" y="13" width="1" height="1" fill="#505050" />
<rect x="910" y="1" width="1" height="1" fill="#505050" />
<rect x="910" y="13" width="1" height="1" fill="#505050" />
<rect x="900" y="1" width="1" height="1" fill="#505050" />
<rect x="911" y="1" width="1" height="1" fill="#505050" />
<rect x="900" y="3" width="1" height="1" fill="#505050" />
<rect x="911" y="3" width="1" height="1" fill="#505050" />
<rect x="900" y="5" width="1" height="1" fill="#505050" />
<rect x="911" y="5" width="1" height="1" fill="#505050" />
<rect x="900" y="7" width="1" height="1" fill="#505050" />
<rect x="911" y="7" width="1" height="1" fill="#505050" />
<rect x="900" y="9" width="1" height="1" fill="#505050" />
<rect x="911" y="9" width="1" height="1" fill="#505050" />
<rect x="900" y="11" width="1" height="1" fill="#505050" />
<rect x="911" y="11" width="1" height="1" fill="#505050" />
<rect x="900" y="13" width="1" height="1" fill="#505050" />
<rect x="911" y="13" width="1" height="1" fill="#505050" />
<rect x="902" y="4" width="8" height="1.4" fill="#585858" />
<rect x="905.3" y="4" width="1.5" height="7.6" fill="#585858" />
</g>
<g fill="#4c4c4c"><polygon points="930.8,0.4 934.2,3.8 930.8,7.2 927.4,3.8"/><polygon points="937.4,7.6 940.8,11 937.4,14.4 934,11"/><path d="M929.4 8 l2.2 2.4 l4.6 -6" stroke="#4c4c4c" stroke-width="1.3" fill="none"/></g>
<polygon points="947.6,6 953.2,6 950.4,9.2" fill="#000"/>
<rect class="c" x="959" y="0" width="1" height="19" fill="#a0a0a0"/>
<rect class="c" x="960" y="0" width="1" height="19" fill="#fff"/>
<g class="c">
<rect x="963" y="1" width="3" height="1" fill="#a8a8a8" />
<rect x="963" y="3" width="3" height="1" fill="#a8a8a8" />
<rect x="963" y="5" width="3" height="1" fill="#a8a8a8" />
<rect x="963" y="7" width="3" height="1" fill="#a8a8a8" />
<rect x="963" y="9" width="3" height="1" fill="#a8a8a8" />
<rect x="963" y="11" width="3" height="1" fill="#a8a8a8" />
<rect x="963" y="13" width="3" height="1" fill="#a8a8a8" />
<rect x="963" y="15" width="3" height="1" fill="#a8a8a8" />
</g>
<rect class="c" x="1138" y="0" width="23" height="17" fill="#f8f8f8"/>
<text x="974.6" y="10.9" font-size="9.6" fill="#404040" text-anchor="start" font-weight="normal" textLength="12.6" lengthAdjust="spacingAndGlyphs">M1</text>
<text x="1002.6" y="10.9" font-size="9.6" fill="#404040" text-anchor="start" font-weight="normal" textLength="12.5" lengthAdjust="spacingAndGlyphs">M5</text>
<text x="1028.7" y="10.9" font-size="9.6" fill="#404040" text-anchor="start" font-weight="normal" textLength="17.3" lengthAdjust="spacingAndGlyphs">M15</text>
<text x="1056.7" y="10.9" font-size="9.6" fill="#404040" text-anchor="start" font-weight="normal" textLength="17.3" lengthAdjust="spacingAndGlyphs">M30</text>
<text x="1087.4" y="10.9" font-size="9.6" fill="#404040" text-anchor="start" font-weight="normal" textLength="11.7" lengthAdjust="spacingAndGlyphs">H1</text>
<text x="1114.6" y="10.9" font-size="9.6" fill="#404040" text-anchor="start" font-weight="normal" textLength="12.4" lengthAdjust="spacingAndGlyphs">H4</text>
<text x="1143.5" y="10.9" font-size="9.6" fill="#404040" text-anchor="start" font-weight="normal" textLength="11.8" lengthAdjust="spacingAndGlyphs">D1</text>
<text x="1170.6" y="10.9" font-size="9.6" fill="#404040" text-anchor="start" font-weight="normal" textLength="14.9" lengthAdjust="spacingAndGlyphs">W1</text>
<text x="1198" y="10.9" font-size="9.6" fill="#404040" text-anchor="start" font-weight="normal" textLength="14.0" lengthAdjust="spacingAndGlyphs">MN</text>
<rect class="c" x="1137" y="0" width="1" height="17" fill="#a0a0a0"/>
<rect class="c" x="1220" y="0" width="1" height="19" fill="#a0a0a0"/>
<g><circle cx="1690.7" cy="4.3" r="3.6" fill="none" stroke="#2458d0" stroke-width="1.7"/><line x1="1687.6" y1="7.6" x2="1683.6" y2="11.6" stroke="#2458d0" stroke-width="2.6" stroke-linecap="round"/></g>
<defs><linearGradient id="gbub" x1="0" y1="0" x2="0" y2="1"><stop offset="0" stop-color="#fbfbfd"/><stop offset="1" stop-color="#dcdce6"/></linearGradient></defs>
<g stroke="#9c9ca4" stroke-width="0.9" fill="url(#gbub)"><path d="M1725.6 9.2 l1.6 2 l-0.2 -2.6 z" stroke-width="0.8"/><ellipse cx="1723.3" cy="3.7" rx="6.2" ry="5.9"/><path d="M1711.6 11.6 l-0.4 2.6 l2.4 -1.8 z" stroke-width="0.8"/><ellipse cx="1714.2" cy="8.3" rx="5" ry="4.4"/></g>
</svg></body></html>
